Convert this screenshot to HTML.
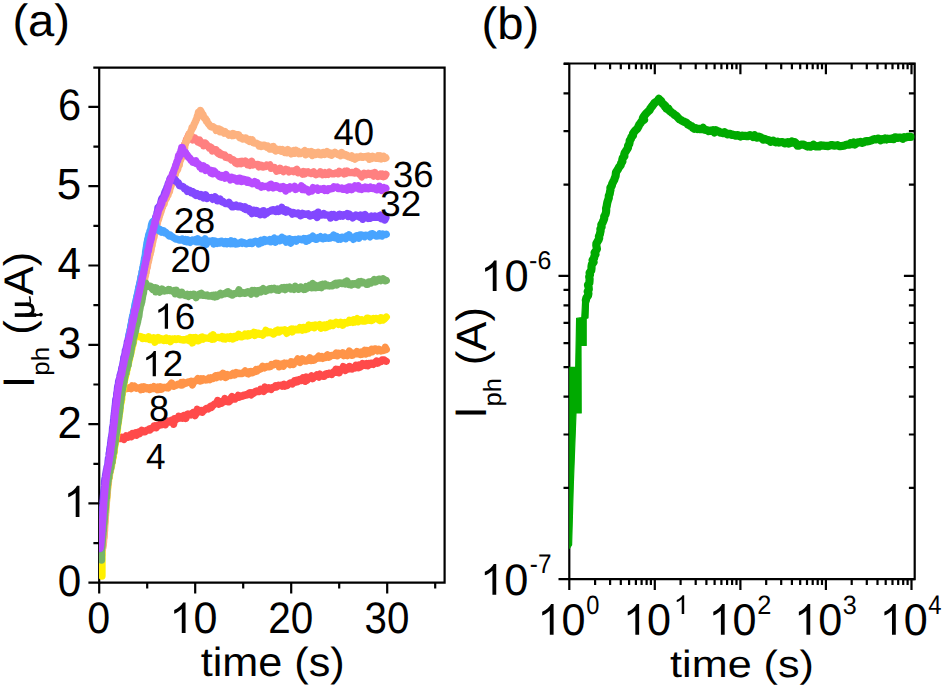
<!DOCTYPE html>
<html><head><meta charset="utf-8"><style>
html,body{margin:0;padding:0;background:#fff;width:943px;height:688px;overflow:hidden}
svg{display:block}
text{font-family:"Liberation Sans",sans-serif}
</style></head><body>
<svg width="943" height="688" viewBox="0 0 943 688"><rect width="943" height="688" fill="#fff"/><defs><clipPath id="ca"><rect x="99.0" y="66.5" width="345.40000000000003" height="516.4000000000001"/></clipPath><clipPath id="cb"><rect x="569.3" y="62.4" width="345.4000000000001" height="516.8000000000001"/></clipPath></defs><path stroke="#000" stroke-width="2.2" fill="none" d="M93.3 67.6 H444.6 V582.7 H99.2"/><path stroke="#000" stroke-width="2.2" fill="none" d="M88.4 582.7H99.2M88.4 503.4H99.2M88.4 424.1H99.2M88.4 344.8H99.2M88.4 265.5H99.2M88.4 186.2H99.2M88.4 106.9H99.2M93.4 543.1H99.2M93.4 463.8H99.2M93.4 384.5H99.2M93.4 305.2H99.2M93.4 225.9H99.2M93.4 146.6H99.2M99.2 582.7V593.5M195.2 582.7V593.5M291.2 582.7V593.5M387.2 582.7V593.5M147.2 582.7V588.5M243.2 582.7V588.5M339.2 582.7V588.5M435.2 582.7V588.5"/><path stroke="#000" stroke-width="2.2" fill="none" d="M99.2 67.6V583.8"/><g clip-path="url(#ca)"><path d="M101.5 556.0 101.5 555.9 101.5 554.7 101.5 552.2 101.5 551.2 101.5 549.8 101.5 549.6 101.5 548.0 101.6 547.9 101.7 545.2 101.9 547.0 102.1 544.0 102.2 543.1 102.3 541.1 102.4 539.7 102.5 539.3 102.6 538.4 102.7 536.5 102.8 535.4 102.9 535.0 103.0 532.8 103.1 531.2 103.2 531.7 103.3 529.9 103.4 527.7 103.5 527.5 103.6 526.7 103.7 525.1 103.9 523.7 104.0 523.8 104.1 523.3 104.2 521.2 104.3 519.5 104.4 519.2 104.5 518.2 104.6 516.1 104.7 515.4 104.8 514.5 104.9 512.1 105.0 510.3 105.1 509.9 105.3 508.5 105.4 507.9 105.5 504.7 105.6 503.9 105.7 502.4 105.8 500.5 105.9 500.8 106.0 499.9 106.1 497.7 106.3 498.3 106.4 496.6 106.5 495.2 106.6 493.9 106.7 493.1 106.8 490.0 107.0 490.2 107.1 488.9 107.2 485.6 107.4 486.0 107.5 484.2 107.7 483.9 107.8 481.8 108.0 481.0 108.1 480.1 108.3 478.1 108.5 478.1 108.7 476.5 108.8 475.9 109.0 474.0 109.3 474.1 109.5 472.5 109.8 470.7 110.0 470.3 110.3 469.8 110.5 469.1 110.8 465.3 111.0 466.1 111.2 464.7 111.5 462.9 111.7 460.9 112.0 461.4 112.2 458.3 112.3 458.7 112.5 458.2 112.7 454.8 112.9 454.7 113.0 452.8 113.2 452.9 113.4 452.8 113.6 452.0 113.7 447.8 113.9 447.6 114.1 447.5 114.3 446.9 114.4 444.8 114.6 442.6 114.8 442.2 115.0 440.9 115.1 439.6 115.3 438.1 115.4 438.3 120.8 438.7 121.9 437.4 122.9 438.2 124.0 439.3 125.0 437.7 126.1 435.9 127.1 436.8 128.2 437.2 129.2 436.0 130.3 434.8 131.3 436.7 132.4 433.5 133.4 435.1 134.5 434.3 135.5 432.8 136.6 435.1 137.6 433.9 138.7 432.0 139.7 433.6 140.8 432.2 141.8 430.3 142.8 431.2 143.9 431.8 144.9 431.8 145.9 430.8 146.9 430.2 148.0 430.2 149.0 429.0 150.0 430.0 151.0 428.4 152.1 428.1 153.1 427.9 154.1 425.8 155.1 425.7 156.2 427.7 157.2 426.1 158.2 425.1 159.2 425.4 160.2 424.3 161.3 424.8 162.3 423.5 163.3 424.2 164.3 422.0 165.4 424.8 166.4 422.6 167.4 421.1 168.4 422.2 169.5 421.7 170.5 422.0 171.5 420.2 172.5 421.3 173.6 424.3 174.6 418.7 175.6 419.9 176.6 418.7 177.7 418.8 178.7 416.2 179.7 416.5 180.7 417.8 181.8 416.9 182.8 418.2 183.8 415.4 184.8 416.0 185.9 418.5 186.9 414.4 187.9 413.9 189.0 414.6 190.0 414.2 191.0 414.9 192.0 413.8 193.1 412.6 194.1 413.3 195.1 415.6 196.1 413.8 197.2 409.3 198.2 411.7 199.2 410.5 200.2 411.7 201.3 410.5 202.3 412.3 203.3 410.8 204.3 410.4 205.4 409.2 206.4 408.5 207.4 408.4 208.4 408.9 209.5 407.6 210.5 406.3 211.5 407.4 212.5 405.8 213.6 405.0 214.6 403.8 215.6 403.7 216.6 403.2 217.7 400.5 218.7 404.2 219.7 403.3 220.7 402.2 221.7 403.1 222.8 402.2 223.8 401.8 224.8 398.6 225.8 400.6 226.9 401.1 227.9 401.9 228.9 401.8 229.9 401.0 231.0 398.0 232.0 396.5 233.0 399.1 234.1 398.3 235.1 399.0 236.2 397.5 237.2 397.6 238.3 395.4 239.4 397.2 240.4 395.9 241.5 396.4 242.6 396.2 243.6 395.2 244.7 395.3 245.7 394.7 246.8 395.1 247.9 394.5 248.9 393.2 250.0 392.8 251.1 394.9 252.1 392.7 253.2 393.6 254.2 392.7 255.3 391.5 256.4 391.0 257.4 391.7 258.5 391.5 259.6 391.5 260.6 389.3 261.7 389.7 262.7 389.9 263.8 391.4 264.9 387.0 265.9 389.5 267.0 388.2 268.0 388.9 269.1 387.7 270.2 388.3 271.2 389.3 272.3 387.7 273.3 387.5 274.4 387.3 275.4 385.9 276.5 387.0 277.6 386.0 278.6 385.2 279.7 385.7 280.7 385.3 281.8 386.1 282.9 385.0 283.9 384.3 285.0 386.2 286.0 385.5 287.1 385.5 288.1 384.6 289.2 383.6 290.3 383.0 291.3 382.9 292.4 384.0 293.4 382.8 294.5 380.8 295.6 382.0 296.6 380.3 297.7 381.6 298.7 379.9 299.8 379.4 300.9 380.5 301.9 379.9 303.0 377.9 304.1 380.1 305.1 381.2 306.2 377.1 307.2 380.2 308.3 377.3 309.4 377.3 310.4 377.4 311.5 375.9 312.6 378.6 313.6 377.6 314.7 376.1 315.7 376.4 316.8 374.9 317.9 376.0 318.9 377.1 320.0 374.1 321.1 375.3 322.1 375.6 323.2 376.3 324.2 376.4 325.3 374.2 326.4 373.6 327.4 374.5 328.5 373.4 329.5 373.1 330.6 374.2 331.7 374.5 332.7 372.6 333.8 371.8 334.8 372.3 335.9 369.3 336.9 370.9 338.0 369.5 339.1 372.8 340.1 370.8 341.2 369.9 342.2 369.3 343.3 366.6 344.4 369.8 345.4 370.5 346.5 367.8 347.5 369.1 348.6 369.0 349.6 366.4 350.7 368.8 351.8 369.1 352.8 367.7 353.9 367.2 354.9 367.8 356.0 365.2 357.1 366.7 358.2 367.6 359.2 365.0 360.3 367.1 361.4 365.4 362.5 363.5 363.6 365.4 364.7 364.3 365.7 365.4 366.8 363.6 367.9 365.7 369.0 363.5 370.1 364.4 371.1 363.2 372.2 363.2 373.3 364.4 374.4 363.1 375.5 362.2 376.6 361.0 377.6 363.2 378.7 362.6 379.8 361.2 380.9 361.6 382.0 360.0 383.1 359.9 384.1 359.9 385.2 361.0 386.3 361.3" stroke="#ff4a4a" stroke-width="7.3" fill="none" stroke-linecap="round" stroke-linejoin="round"/><path d="M101.5 555.6 101.5 553.8 101.5 552.9 101.5 552.4 101.5 551.3 101.5 549.7 101.5 547.5 101.5 547.6 101.6 546.2 101.7 546.6 101.9 544.0 102.1 540.9 102.2 541.4 102.3 542.2 102.4 539.8 102.5 538.3 102.6 538.1 102.7 536.9 102.8 535.8 102.9 534.1 103.0 533.5 103.1 532.5 103.2 530.8 103.3 529.4 103.4 529.2 103.5 528.6 103.6 527.0 103.7 525.7 103.9 524.3 104.0 524.7 104.1 521.6 104.2 520.9 104.3 520.4 104.4 517.6 104.5 516.5 104.6 515.9 104.7 515.2 104.8 512.8 104.9 511.7 105.0 510.3 105.1 508.1 105.3 508.8 105.4 506.5 105.5 504.1 105.6 504.3 105.7 501.9 105.8 501.3 105.9 501.0 106.0 499.1 106.1 499.5 106.3 496.4 106.4 496.7 106.5 495.7 106.6 495.3 106.7 493.7 106.8 491.8 107.0 490.4 107.1 488.9 107.2 488.6 107.4 485.8 107.5 485.5 107.7 483.8 107.8 482.9 108.0 481.3 108.1 482.1 108.3 478.7 108.5 478.3 108.7 477.2 108.8 476.3 109.0 475.0 109.3 473.7 109.5 472.9 109.8 469.7 110.0 469.7 110.3 467.6 110.5 467.6 110.8 465.2 111.0 464.2 111.2 463.8 111.5 463.6 111.7 461.6 112.0 460.1 112.2 459.9 112.3 457.0 112.5 455.1 112.7 455.4 112.9 454.6 113.0 454.8 113.2 454.5 113.4 450.8 113.6 452.8 113.7 451.1 113.9 449.5 114.1 448.1 114.3 448.6 114.4 445.6 114.6 444.1 114.8 443.4 115.0 441.0 115.2 441.2 115.4 439.4 115.6 438.5 115.7 437.4 115.9 435.1 116.1 435.8 116.2 432.8 116.4 433.2 116.6 430.0 116.7 430.4 116.9 428.3 117.0 427.9 117.2 426.2 117.4 423.8 117.5 423.3 117.7 423.0 117.9 422.1 118.1 419.2 118.2 417.3 118.4 417.0 118.6 416.4 118.7 414.8 118.9 413.5 119.0 413.7 119.2 412.6 119.4 411.2 119.5 408.6 119.7 408.3 119.8 406.9 120.0 404.7 120.1 405.4 120.3 403.6 120.5 402.0 120.6 402.4 120.8 400.7 121.0 399.6 121.2 398.6 121.3 397.0 121.5 394.3 121.7 393.8 121.9 393.8 122.1 391.3 122.2 390.9 122.4 390.0 122.6 389.0 126.9 388.5 128.0 387.9 129.1 388.4 130.1 387.6 131.2 388.6 132.3 385.9 133.4 387.6 134.5 386.1 135.6 387.3 136.6 388.3 137.7 387.8 138.8 387.8 139.9 388.0 141.0 389.7 142.0 387.0 143.1 389.2 144.2 386.8 145.3 388.0 146.4 388.8 147.4 387.8 148.5 388.9 149.6 389.5 150.7 387.5 151.8 388.7 152.9 388.4 153.9 386.7 155.0 388.4 156.1 387.6 157.2 389.6 158.3 387.0 159.4 389.5 160.5 386.9 161.6 389.3 162.7 387.6 163.8 387.3 164.9 387.5 166.0 387.4 167.1 387.8 168.2 388.0 169.3 385.6 170.4 384.6 171.5 383.0 172.6 385.2 173.7 386.3 174.8 385.7 175.9 385.3 177.0 384.6 178.1 384.2 179.2 384.4 180.3 384.9 181.4 382.5 182.5 384.9 183.6 382.4 184.7 383.6 185.8 382.9 186.9 383.0 188.0 382.1 189.1 381.8 190.2 382.6 191.3 381.4 192.4 384.9 193.5 381.6 194.6 381.1 195.7 381.0 196.8 380.3 197.9 378.6 199.0 380.6 200.1 381.0 201.2 378.9 202.2 380.3 203.3 378.8 204.4 379.8 205.5 380.0 206.6 379.9 207.7 379.6 208.8 378.2 209.9 379.6 211.0 377.9 212.1 378.5 213.2 378.6 214.3 377.2 215.4 375.9 216.5 377.6 217.6 375.4 218.7 375.5 219.8 375.0 220.9 376.8 222.0 375.6 223.1 373.2 224.2 376.2 225.3 377.5 226.4 377.1 227.5 374.5 228.6 375.0 229.7 375.4 230.8 375.6 231.9 374.6 233.0 373.3 234.1 375.1 235.2 374.7 236.3 372.5 237.4 373.3 238.5 373.7 239.6 373.2 240.7 373.5 241.8 373.6 242.9 373.2 244.0 372.3 245.1 370.9 246.2 372.8 247.3 373.5 248.4 373.9 249.5 371.7 250.6 371.5 251.7 372.9 252.8 372.7 253.9 371.4 255.0 371.6 256.1 369.7 257.2 370.9 258.3 369.1 259.4 369.4 260.5 369.1 261.6 368.3 262.7 366.2 263.8 367.1 264.8 367.9 265.9 367.1 267.0 366.4 268.1 366.9 269.2 366.8 270.3 366.7 271.4 364.6 272.5 365.3 273.6 364.7 274.7 363.9 275.8 363.2 276.9 364.5 278.0 363.6 279.1 366.7 280.2 364.2 281.3 364.0 282.4 363.8 283.5 366.1 284.6 363.1 285.7 363.8 286.8 363.1 287.9 363.7 289.0 363.6 290.1 364.6 291.2 361.7 292.3 363.0 293.4 364.4 294.5 362.0 295.6 362.1 296.7 361.0 297.8 358.9 298.9 361.3 300.0 362.4 301.1 360.4 302.2 358.8 303.3 360.8 304.4 360.4 305.5 361.2 306.6 360.9 307.7 359.5 308.8 360.1 309.9 357.7 311.0 360.6 312.1 359.5 313.2 360.3 314.3 360.2 315.4 358.6 316.5 358.5 317.6 357.7 318.7 356.2 319.8 358.1 320.9 358.2 322.0 356.6 323.1 358.3 324.2 357.4 325.2 357.6 326.3 356.1 327.4 354.8 328.5 357.3 329.6 356.9 330.7 355.9 331.8 355.4 332.9 355.4 334.0 355.3 335.1 354.7 336.2 353.0 337.3 355.8 338.4 353.2 339.5 354.4 340.6 354.3 341.7 354.8 342.8 352.8 343.9 355.7 345.0 355.1 346.1 355.1 347.2 355.6 348.3 353.4 349.4 351.0 350.5 354.5 351.6 355.4 352.7 355.2 353.8 353.3 354.9 353.6 356.0 353.9 357.1 351.5 358.2 352.5 359.3 352.4 360.4 354.5 361.5 352.0 362.6 354.1 363.7 352.2 364.8 350.2 365.9 354.1 367.0 350.6 368.1 352.0 369.2 352.9 370.3 350.4 371.4 349.4 372.5 351.7 373.5 350.5 374.6 348.9 375.7 349.0 376.7 349.5 377.8 350.8 378.9 349.3 379.9 350.1 381.0 351.1 382.0 350.6 383.1 350.6 384.2 350.3 385.2 347.3 386.3 349.5" stroke="#ff9448" stroke-width="7.3" fill="none" stroke-linecap="round" stroke-linejoin="round"/><path d="M102.0 576.0 102.0 573.5 102.0 572.9 102.0 573.8 102.0 570.8 102.0 569.9 102.0 567.8 102.0 567.3 102.0 566.1 102.0 565.0 102.0 563.9 102.0 562.2 102.0 561.0 102.0 560.2 102.0 559.2 102.0 557.5 102.0 557.8 102.0 555.3 102.0 554.0 102.0 552.0 102.0 552.1 102.0 549.2 102.0 547.5 102.0 546.7 102.1 547.3 102.2 545.3 102.4 546.3 102.6 543.6 102.7 541.1 102.8 540.7 102.9 541.3 103.0 538.2 103.1 536.8 103.2 537.2 103.3 536.8 103.4 535.6 103.5 533.5 103.6 532.9 103.7 532.0 103.8 531.6 103.9 531.2 104.0 528.2 104.1 528.2 104.2 525.7 104.4 525.4 104.5 523.0 104.6 521.9 104.7 521.7 104.8 519.4 104.9 519.6 105.0 517.3 105.1 516.6 105.2 515.2 105.3 513.8 105.4 513.0 105.5 512.5 105.6 512.8 105.8 508.2 105.9 508.1 106.0 506.5 106.1 504.6 106.2 504.3 106.3 502.1 106.4 501.5 106.5 501.3 106.6 497.5 106.8 498.1 106.9 497.0 107.0 494.7 107.1 494.6 107.2 493.2 107.3 491.3 107.5 491.2 107.6 487.9 107.7 488.1 107.9 486.1 108.0 484.1 108.2 483.6 108.3 482.3 108.5 482.1 108.6 479.1 108.8 479.0 109.0 477.6 109.2 478.1 109.3 474.8 109.5 475.4 109.8 472.0 110.0 472.4 110.3 470.8 110.5 470.2 110.8 468.2 111.0 466.1 111.3 465.3 111.5 466.4 111.7 464.4 112.0 462.3 112.2 462.4 112.5 459.8 112.7 458.7 112.8 457.3 113.0 458.1 113.2 457.6 113.4 454.1 113.5 454.1 113.7 453.5 113.9 453.3 114.1 448.6 114.2 449.5 114.4 448.8 114.6 446.0 114.8 446.4 114.9 445.1 115.1 444.4 115.3 442.2 115.5 441.8 115.7 439.8 115.9 439.5 116.1 438.0 116.2 436.4 116.4 434.5 116.6 435.8 116.7 434.2 116.9 433.0 117.1 430.5 117.2 429.6 117.4 430.0 117.5 428.1 117.7 425.7 117.9 425.2 118.0 423.9 118.2 422.3 118.4 420.4 118.6 420.8 118.7 419.0 118.9 417.1 119.1 414.8 119.2 414.4 119.4 413.8 119.5 413.3 119.7 411.2 119.9 411.3 120.0 409.4 120.2 407.6 120.3 404.8 120.5 405.0 120.6 403.6 120.8 403.5 121.0 402.8 121.1 402.5 121.3 400.1 121.5 398.0 121.7 399.5 121.8 396.6 122.0 394.9 122.2 393.6 122.4 391.5 122.6 391.9 122.8 390.4 123.0 390.1 123.2 388.5 123.4 387.2 123.6 386.3 123.8 383.9 124.1 382.7 124.3 381.7 124.5 379.6 124.8 379.3 125.0 378.1 125.2 377.9 125.5 376.3 125.8 373.4 126.2 373.5 126.4 373.6 126.7 370.0 126.9 369.8 127.2 369.2 127.4 367.0 127.7 366.4 128.0 365.5 128.3 363.0 128.6 362.9 128.8 361.9 129.1 359.5 129.3 359.5 129.5 359.3 129.8 357.1 130.0 356.5 130.3 355.6 130.5 353.8 130.8 353.7 131.0 352.0 131.3 349.8 131.5 349.9 131.8 349.1 132.0 347.9 132.3 345.7 132.5 345.4 132.8 345.1 133.0 343.1 133.3 342.8 133.5 341.9 133.7 339.7 134.0 339.2 134.2 337.3 134.4 337.3 134.7 335.3 136.1 335.9 137.2 336.3 138.2 336.6 139.3 336.4 140.3 336.6 141.4 336.8 142.4 338.5 143.5 337.4 144.5 337.8 145.6 338.6 146.6 338.1 147.7 338.6 148.7 336.7 149.8 339.6 150.8 339.0 151.9 339.7 152.9 340.0 154.0 337.7 155.0 342.2 156.1 339.9 157.2 339.8 158.3 337.6 159.4 340.1 160.5 339.7 161.6 338.8 162.7 339.4 163.8 340.5 164.9 338.7 166.0 338.1 167.1 340.5 168.2 339.4 169.3 338.9 170.4 341.6 171.5 339.4 172.6 339.0 173.7 339.5 174.8 338.8 175.9 339.5 177.0 339.4 178.1 338.6 179.2 339.0 180.3 339.6 181.4 339.7 182.5 339.9 183.6 340.1 184.7 339.6 185.8 339.9 186.9 339.0 188.0 339.2 189.1 340.6 190.2 337.4 191.3 339.9 192.4 342.9 193.5 337.6 194.6 341.0 195.7 337.5 196.8 339.7 197.9 340.9 199.0 340.6 200.1 337.9 201.2 337.3 202.2 337.0 203.3 339.1 204.4 337.7 205.5 338.0 206.6 338.2 207.7 338.2 208.8 338.3 209.9 337.9 211.0 336.0 212.1 339.2 213.2 334.8 214.3 339.0 215.4 337.1 216.5 337.6 217.6 337.3 218.7 337.4 219.8 337.8 220.9 337.5 222.0 336.6 223.1 338.7 224.2 337.1 225.3 339.0 226.4 337.4 227.5 336.9 228.6 338.1 229.7 338.5 230.8 336.6 231.9 337.3 233.0 339.0 234.1 336.4 235.2 336.5 236.3 337.4 237.4 335.8 238.5 334.3 239.6 334.9 240.7 336.8 241.8 336.8 242.9 336.4 244.0 336.0 245.1 334.0 246.2 335.8 247.3 336.0 248.4 333.9 249.5 335.3 250.6 333.8 251.7 334.3 252.8 334.4 253.9 332.4 255.0 335.4 256.1 332.9 257.2 333.7 258.3 333.2 259.4 334.3 260.5 334.2 261.6 333.7 262.7 335.1 263.8 333.8 264.8 333.0 265.9 330.3 267.0 332.9 268.1 332.7 269.2 331.9 270.3 331.8 271.4 333.1 272.5 333.4 273.6 334.1 274.7 333.1 275.8 331.0 276.9 331.9 278.0 330.0 279.1 332.0 280.2 331.4 281.3 330.2 282.4 330.5 283.5 330.2 284.6 329.7 285.7 331.6 286.8 333.3 287.9 330.7 289.0 330.9 290.1 329.9 291.2 329.2 292.3 331.9 293.4 329.1 294.5 329.8 295.6 329.2 296.7 329.9 297.8 329.1 298.9 329.7 300.0 327.6 301.1 328.7 302.2 330.1 303.3 327.4 304.4 327.6 305.5 329.5 306.6 328.3 307.7 328.8 308.8 325.1 309.9 327.4 311.0 325.7 312.1 325.4 313.2 327.2 314.3 327.8 315.4 324.9 316.5 325.2 317.6 325.7 318.7 326.1 319.8 324.6 320.9 328.3 322.0 326.4 323.1 325.2 324.2 324.9 325.2 327.7 326.3 327.5 327.4 324.4 328.5 325.1 329.6 325.9 330.7 323.1 331.8 323.6 332.9 325.5 334.0 323.2 335.1 323.4 336.2 322.3 337.3 322.9 338.4 324.3 339.5 322.7 340.6 322.1 341.7 322.7 342.8 325.2 343.9 323.3 345.0 322.4 346.1 323.0 347.2 323.1 348.3 322.5 349.4 320.3 350.5 322.2 351.6 321.4 352.7 322.3 353.8 319.7 354.9 322.0 356.0 320.1 357.1 318.7 358.2 321.7 359.3 319.6 360.4 320.4 361.5 319.8 362.6 321.1 363.7 321.1 364.8 321.1 365.9 320.7 367.0 318.2 368.1 318.2 369.2 320.2 370.3 319.0 371.4 320.5 372.5 320.1 373.5 318.4 374.6 318.7 375.7 318.4 376.7 318.6 377.8 319.1 378.9 319.9 379.9 320.4 381.0 317.7 382.0 318.0 383.1 320.0 384.2 319.1 385.2 318.1 386.3 317.0" stroke="#fff000" stroke-width="7.3" fill="none" stroke-linecap="round" stroke-linejoin="round"/><path d="M102.3 548.3 102.4 548.5 102.5 545.2 102.7 545.2 102.9 543.7 103.0 543.6 103.1 542.7 103.2 539.5 103.3 538.8 103.4 538.0 103.5 537.2 103.6 534.9 103.7 534.7 103.7 532.4 103.8 529.8 103.9 529.7 104.0 530.0 104.1 529.3 104.1 525.6 104.2 524.8 104.3 525.0 104.4 521.1 104.5 523.1 104.6 522.2 104.6 517.8 104.7 519.6 104.8 517.6 104.9 517.7 105.0 515.5 105.1 513.9 105.1 513.0 105.2 512.4 105.3 510.5 105.4 509.1 105.5 506.7 105.6 507.0 105.7 505.4 105.7 505.6 105.8 502.9 105.9 501.6 106.0 500.0 106.1 500.0 106.2 498.1 106.3 496.6 106.3 497.3 106.4 496.4 106.5 493.4 106.6 491.8 106.7 492.3 106.8 489.5 106.9 491.2 107.1 487.5 107.2 487.1 107.3 484.0 107.4 483.9 107.5 483.7 107.7 482.0 107.8 480.1 107.9 481.3 108.1 478.8 108.3 476.9 108.4 475.6 108.6 474.7 108.8 474.8 109.0 471.9 109.3 471.3 109.5 469.6 109.7 470.1 109.9 467.8 110.1 467.5 110.4 466.1 110.6 464.0 110.8 463.7 111.0 462.6 111.2 459.5 111.4 459.9 111.6 461.1 111.7 456.8 111.9 456.5 112.0 453.8 112.2 454.1 112.3 452.1 112.5 452.1 112.6 450.3 112.8 448.3 112.9 449.0 113.1 446.8 113.2 445.0 113.4 444.8 113.5 442.9 113.7 442.9 113.9 441.3 114.0 439.9 114.2 439.6 114.4 436.9 114.5 437.6 114.7 434.2 114.8 436.1 115.0 433.9 115.1 432.5 115.2 431.1 115.4 431.1 115.5 429.4 115.6 428.3 115.8 428.2 115.9 425.9 116.1 424.8 116.2 424.0 116.4 423.3 116.5 421.0 116.7 419.9 116.8 418.5 117.0 417.9 117.1 417.3 117.2 414.2 117.4 413.6 117.5 412.4 117.6 411.7 117.8 411.3 117.9 408.9 118.0 407.9 118.2 407.4 118.3 404.3 118.4 403.5 118.6 402.6 118.7 401.8 118.9 400.7 119.0 398.9 119.2 399.5 119.3 396.2 119.5 395.4 119.6 395.2 119.8 393.6 120.0 391.7 120.2 390.7 120.3 389.8 120.5 387.8 120.7 387.0 120.9 384.5 121.1 384.0 121.3 381.4 121.5 380.7 121.8 379.1 122.0 379.8 122.2 377.3 122.4 376.9 122.7 374.9 123.0 374.0 123.4 372.6 123.6 371.1 123.9 371.5 124.1 368.6 124.4 369.3 124.6 369.8 124.9 365.9 125.2 365.3 125.5 362.7 125.8 362.6 126.0 360.2 126.3 361.0 126.5 359.1 126.7 356.9 127.0 356.3 127.2 354.9 127.5 354.9 127.7 354.7 128.0 352.6 128.2 350.8 128.5 350.0 128.7 349.7 129.0 346.6 129.2 348.0 129.5 346.7 129.7 343.3 130.0 345.2 130.2 341.9 130.5 341.9 130.7 342.0 130.9 338.6 131.2 337.4 131.4 336.8 131.6 335.8 131.9 335.5 132.1 334.1 132.3 333.0 132.6 331.9 132.8 331.1 133.0 329.4 133.2 329.4 133.5 328.0 133.7 326.1 133.9 327.4 134.1 323.7 134.4 324.3 134.6 322.0 134.8 321.8 135.1 320.8 135.3 320.0 135.5 319.3 135.7 316.4 136.0 318.3 136.2 315.2 136.4 313.1 136.7 311.6 136.9 313.5 137.1 311.9 137.4 309.4 137.6 308.9 137.8 308.3 138.1 306.2 138.3 304.7 138.5 303.9 138.8 303.5 139.0 301.7 139.2 299.6 139.5 300.1 139.7 296.9 139.9 296.6 140.2 297.2 140.4 295.3 140.6 294.3 140.9 293.2 141.1 292.9 141.3 291.0 141.6 288.5 141.8 289.3 142.1 285.6 142.3 285.4 142.6 287.4 142.8 285.9 143.0 283.7 143.3 282.9 143.5 282.0 143.8 281.7 144.0 279.2 144.3 278.0 144.5 277.1 144.8 276.6 145.0 275.6 145.3 273.9 145.5 273.7 145.8 271.0 146.0 270.6 146.3 268.9 146.5 267.5 146.8 268.1 147.0 265.7 147.2 263.9 147.5 263.6 147.7 261.6 148.0 261.7 148.2 260.8 148.4 259.7 148.6 256.9 148.9 256.6 149.1 257.1 149.3 254.4 149.5 254.6 149.7 253.8 149.9 250.4 150.1 251.5 150.4 250.2 150.6 249.3 150.8 249.0 151.0 247.1 151.2 245.8 151.5 245.2 151.7 243.5 151.9 243.1 152.2 240.1 152.4 242.0 152.7 239.1 152.9 238.9 153.2 237.6 153.5 236.2 153.8 235.0 154.1 233.8 154.4 231.3 154.7 230.9 155.0 231.1 155.3 228.0 155.6 226.8 155.9 228.2 156.3 226.2 156.6 225.3 156.9 222.8 157.3 221.8 157.6 221.1 157.9 219.7 158.3 218.0 158.6 215.8 158.9 215.3 159.2 213.6 159.6 215.0 160.0 212.1 160.4 211.0 160.8 210.1 161.2 208.8 161.6 208.1 162.0 206.1 162.3 204.4 162.7 206.2 163.1 203.3 163.6 202.2 164.2 200.7 164.7 199.7 165.3 199.0 165.8 198.4 166.3 195.7 166.9 195.6 167.4 193.5 167.9 193.8 168.4 190.5 169.0 190.2 169.5 189.3 170.0 186.3 170.5 186.2 171.0 184.9 171.5 182.8 172.0 181.8 172.5 181.4 173.0 179.3 173.5 177.4 174.0 176.1 174.5 175.2 174.9 174.8 175.2 173.4 175.6 172.3 175.9 171.9 176.3 168.3 176.6 167.4 177.2 165.2 177.7 166.3 178.2 162.4 178.7 162.8 179.1 162.2 179.6 159.2 180.1 158.5 180.5 157.6 181.0 157.2 181.4 154.2 181.8 154.5 182.3 153.6 182.7 152.1 183.1 151.1 183.4 151.2 183.7 149.4 184.2 147.9 184.4 146.5 184.5 146.1 184.7 144.2 185.2 143.8 185.6 142.2 186.1 141.9 186.5 139.3 187.0 138.8 187.4 137.9 187.9 136.8 188.3 136.3 188.8 134.6 189.8 135.9 190.7 137.6 191.7 137.6 192.6 137.0 193.6 138.5 192.6 140.0 193.6 139.8 194.6 137.8 195.6 138.9 196.7 139.5 197.7 141.9 198.7 140.4 199.5 140.0 200.4 143.3 201.2 143.0 202.0 143.6 202.8 142.9 203.7 145.8 204.5 144.6 205.5 143.2 206.4 144.5 207.4 145.3 208.4 146.5 209.3 148.0 210.3 146.9 211.3 147.6 212.3 151.1 213.2 149.5 214.2 149.4 215.2 150.6 216.2 149.9 217.1 152.3 218.1 153.3 219.1 152.3 220.0 154.5 220.9 153.8 221.8 155.0 222.8 154.5 223.7 155.1 224.6 154.9 225.6 157.3 226.5 157.3 227.4 157.8 228.4 157.3 229.4 157.6 230.4 158.6 231.4 160.1 232.3 160.3 233.3 159.7 234.3 161.0 235.3 162.9 236.3 161.6 237.3 163.7 238.4 162.2 239.4 163.4 240.4 161.6 241.4 163.6 242.4 161.3 243.5 163.0 244.5 162.6 245.5 161.0 246.6 161.9 247.6 164.7 248.6 164.3 249.7 165.3 250.7 164.3 251.7 161.3 252.8 164.9 253.8 164.2 254.8 164.4 255.9 164.7 256.9 164.5 257.9 164.4 258.9 166.9 259.9 166.2 261.0 165.2 262.0 165.5 263.1 167.1 264.3 166.6 265.4 166.5 266.6 165.1 267.7 166.1 268.9 165.5 270.0 164.9 271.1 168.3 272.2 167.4 273.4 167.7 274.5 167.5 275.6 169.5 276.7 171.2 277.9 169.8 279.0 170.4 280.1 168.3 281.2 170.0 282.4 170.1 283.5 171.6 284.6 170.1 285.7 169.2 286.9 170.2 288.0 169.9 289.1 171.9 290.2 171.2 291.3 170.9 292.4 170.9 293.6 171.7 294.7 170.4 295.8 170.1 296.9 169.3 298.0 172.7 299.1 172.2 300.3 172.5 301.4 172.1 302.5 174.1 303.6 171.5 304.7 173.9 305.8 171.9 307.0 172.4 308.1 171.7 309.2 173.1 310.3 172.8 311.5 173.6 312.6 172.6 313.7 171.8 314.8 173.9 316.0 174.7 317.1 174.2 318.2 173.4 319.3 173.8 320.4 171.7 321.5 173.1 322.7 174.7 323.8 174.0 324.9 172.7 326.0 174.4 327.1 173.4 328.2 174.3 329.4 172.1 330.5 172.9 331.6 173.8 332.7 173.7 333.8 173.9 334.9 173.2 336.1 172.9 337.2 173.6 338.3 173.9 339.4 171.3 340.5 172.5 341.6 172.6 342.8 173.0 343.9 173.8 345.0 171.4 346.1 173.3 347.2 171.0 348.3 172.1 349.4 172.4 350.6 172.7 351.7 172.4 352.8 172.6 353.9 172.9 355.0 173.0 356.1 171.4 357.2 172.0 358.3 173.1 359.4 174.2 360.6 174.8 361.7 176.9 362.8 174.1 363.9 173.2 365.0 174.3 366.1 175.0 367.2 174.5 368.3 173.3 369.4 174.4 370.5 174.6 371.6 173.3 372.7 173.5 373.8 176.1 374.9 172.6 376.0 175.1 377.1 174.7 378.2 176.4 379.3 175.6 380.4 174.0 381.5 176.1 382.6 174.2 383.7 176.7 384.8 176.2 385.9 174.3" stroke="#ff8080" stroke-width="7.3" fill="none" stroke-linecap="round" stroke-linejoin="round"/><path d="M102.8 547.9 102.9 547.3 103.0 546.5 103.2 545.7 103.4 543.3 103.5 542.5 103.6 541.8 103.7 539.1 103.8 538.6 103.9 538.2 104.0 538.6 104.1 536.9 104.2 536.5 104.2 535.2 104.3 532.7 104.4 531.8 104.5 529.8 104.6 530.4 104.6 528.7 104.7 527.2 104.8 525.9 104.9 524.4 105.0 522.9 105.1 521.6 105.1 521.0 105.2 518.1 105.3 516.6 105.4 516.2 105.5 515.9 105.6 514.0 105.6 512.4 105.7 512.1 105.8 510.3 105.9 507.6 106.0 507.1 106.1 505.1 106.2 505.4 106.2 504.1 106.3 503.7 106.4 503.9 106.5 500.7 106.6 500.1 106.7 498.7 106.8 495.6 106.8 496.1 106.9 495.0 107.0 494.6 107.1 492.5 107.2 490.9 107.3 491.0 107.4 489.2 107.6 487.2 107.7 486.0 107.8 485.1 107.9 484.8 108.0 484.1 108.2 480.8 108.3 481.6 108.4 479.6 108.6 478.7 108.8 478.1 108.9 475.4 109.1 475.7 109.3 472.8 109.5 472.2 109.8 470.6 110.0 471.5 110.2 470.2 110.4 468.3 110.6 466.9 110.9 464.8 111.1 465.4 111.3 463.7 111.5 461.9 111.7 459.7 111.9 458.3 112.1 457.4 112.2 457.4 112.4 454.5 112.5 454.3 112.7 454.4 112.8 452.8 113.0 452.4 113.1 450.3 113.3 449.3 113.4 449.0 113.6 447.4 113.7 446.1 113.9 444.3 114.0 442.4 114.2 443.6 114.4 440.9 114.5 439.4 114.7 439.4 114.9 436.7 115.0 435.2 115.2 434.7 115.3 433.9 115.5 433.0 115.6 432.0 115.7 431.2 115.9 429.2 116.0 428.4 116.1 426.9 116.3 425.3 116.4 424.9 116.6 423.6 116.7 423.4 116.9 421.1 117.0 418.8 117.2 418.6 117.3 416.7 117.5 417.0 117.6 413.3 117.7 413.1 117.9 412.0 118.0 411.6 118.1 410.4 118.3 408.2 118.4 407.0 118.5 407.6 118.7 407.6 118.8 406.5 118.9 404.0 119.1 403.6 119.2 401.4 119.4 399.7 119.5 400.6 119.7 398.9 119.8 396.8 120.0 395.5 120.1 395.2 120.3 393.4 120.5 391.6 120.7 390.7 120.8 389.2 121.0 387.6 121.2 386.1 121.4 386.2 121.6 383.8 121.8 382.1 122.0 383.1 122.3 381.4 122.5 379.5 122.7 378.0 122.9 377.1 123.2 374.8 123.5 374.5 123.9 373.3 124.1 371.9 124.4 371.4 124.6 369.4 124.9 369.0 125.1 366.5 125.4 366.5 125.7 364.8 126.0 362.9 126.3 362.3 126.5 361.6 126.8 360.1 127.0 360.3 127.2 358.0 127.5 358.2 127.7 357.0 128.0 355.0 128.2 355.6 128.5 352.3 128.7 352.8 129.0 351.4 129.2 350.9 129.5 348.0 129.7 347.2 130.0 346.4 130.2 345.9 130.5 344.8 130.7 343.6 131.0 342.2 131.2 340.6 131.4 339.0 131.7 338.5 131.9 338.0 132.1 337.2 132.4 334.8 132.6 334.8 132.8 331.8 133.1 332.3 133.3 329.8 133.5 329.7 133.7 327.7 134.0 326.6 134.2 325.9 134.4 326.5 134.6 323.8 134.9 323.8 135.1 322.5 135.3 321.6 135.6 320.6 135.8 319.9 136.0 317.5 136.2 317.4 136.5 316.7 136.7 315.0 136.9 314.7 137.2 312.6 137.4 313.0 137.6 310.9 137.9 310.2 138.1 310.0 138.3 309.1 138.6 306.8 138.8 305.6 139.0 305.7 139.3 301.6 139.5 303.7 139.7 302.5 140.0 299.4 140.2 299.9 140.4 298.0 140.7 296.9 140.9 293.5 141.1 293.8 141.4 292.9 141.6 291.5 141.8 290.4 142.1 289.4 142.3 286.3 142.6 287.4 142.8 285.9 143.1 285.4 143.3 284.1 143.5 283.4 143.8 282.6 144.0 282.7 144.3 279.6 144.5 280.5 144.8 277.9 145.0 276.3 145.3 274.7 145.5 275.3 145.8 272.3 146.0 273.0 146.3 271.3 146.5 269.4 146.8 268.1 147.0 267.8 147.3 266.4 147.5 265.8 147.7 264.1 148.0 262.6 148.2 262.3 148.5 259.9 148.7 260.4 148.9 258.9 149.1 256.9 149.4 256.0 149.6 255.6 149.8 253.5 150.0 255.0 150.2 253.7 150.4 251.1 150.6 250.9 150.9 251.3 151.1 249.3 151.3 247.2 151.5 245.4 151.7 244.8 152.0 246.0 152.2 244.2 152.4 241.9 152.7 242.4 152.9 240.4 153.2 239.0 153.4 238.0 153.7 236.8 154.0 237.3 154.3 234.0 154.6 233.2 154.9 233.3 155.2 232.2 155.5 229.0 155.8 230.2 156.1 228.2 156.4 224.9 156.8 226.3 157.1 222.5 157.4 223.1 157.8 220.5 158.1 218.9 158.4 219.8 158.8 218.4 159.1 217.0 159.4 216.2 159.7 215.0 160.1 213.8 160.5 212.0 160.9 212.1 161.3 210.4 161.7 209.1 162.1 207.8 162.5 207.0 162.8 205.1 163.2 205.0 163.6 203.5 164.1 204.0 164.7 200.9 165.2 200.0 165.8 199.1 166.3 198.4 166.8 196.8 167.4 195.1 167.9 195.4 168.4 192.3 168.9 191.1 169.5 191.6 170.0 187.4 170.5 187.5 171.0 185.7 171.5 182.9 172.0 182.2 172.5 182.0 173.0 178.8 173.5 178.5 174.0 178.0 174.5 175.8 175.0 174.8 175.4 173.1 175.7 172.3 176.1 171.4 176.4 170.7 176.8 170.5 177.1 169.2 177.7 169.3 178.2 166.8 178.7 165.3 179.2 165.5 179.6 162.4 180.1 160.6 180.6 160.1 181.0 157.9 181.5 157.9 181.9 157.3 182.3 155.5 182.8 153.4 183.2 152.6 183.6 152.0 183.9 151.6 184.2 149.4 184.7 148.1 184.7 148.1 184.7 146.2 184.7 145.2 185.2 144.2 185.6 142.1 186.1 141.5 186.5 141.4 187.0 139.4 187.4 138.2 187.9 137.6 188.3 136.6 188.8 137.2 189.3 133.5 189.9 133.2 190.4 133.6 190.9 131.0 191.5 130.1 192.0 127.6 192.5 128.4 193.1 127.2 193.6 126.0 194.1 124.1 194.7 123.4 195.2 121.9 195.7 121.4 196.2 119.5 196.8 119.0 197.3 116.1 197.8 115.7 198.4 112.5 198.9 113.5 199.4 113.1 200.0 111.1 200.5 110.8 200.5 110.5 201.0 111.4 201.5 112.4 202.0 113.6 202.5 114.1 203.0 114.7 203.5 116.2 204.0 117.7 204.6 118.3 205.1 119.0 205.7 118.8 206.3 121.2 206.8 120.7 207.4 122.2 208.3 123.8 209.2 124.5 210.2 126.2 211.1 126.7 212.0 127.0 213.1 126.7 214.1 127.6 215.1 127.9 216.2 130.5 217.1 129.5 218.1 128.8 219.1 129.1 220.0 131.7 221.0 129.9 222.0 131.6 223.0 131.8 224.0 133.1 225.0 131.5 226.0 133.2 227.0 133.3 228.0 134.2 228.9 135.1 229.9 134.2 230.9 134.1 231.9 135.6 233.1 133.5 234.2 135.4 235.4 134.5 236.5 134.6 237.7 134.6 238.7 134.8 239.6 137.7 240.6 138.0 241.6 137.6 242.5 138.9 243.5 138.2 244.7 138.0 245.8 137.8 247.0 140.1 248.1 140.5 249.3 141.4 250.3 139.6 251.2 140.6 252.2 139.9 253.2 142.9 254.1 142.9 255.1 143.2 256.1 143.1 257.1 143.6 258.0 143.9 259.0 146.0 260.0 144.8 261.1 146.6 262.2 146.3 263.4 145.2 264.5 145.1 265.6 146.0 266.7 147.1 267.8 146.1 268.9 148.4 270.0 149.2 271.2 148.9 272.3 146.8 273.4 146.4 274.5 150.0 275.6 150.9 276.7 149.1 277.9 150.2 279.0 149.5 280.1 149.3 281.2 151.1 282.4 149.6 283.5 151.2 284.6 152.3 285.7 150.5 286.9 152.7 288.0 149.6 289.1 152.0 290.2 151.2 291.3 153.9 292.4 151.4 293.6 150.6 294.7 153.3 295.8 150.2 296.9 152.4 298.0 151.3 299.1 153.7 300.3 152.3 301.4 153.4 302.5 152.6 303.6 151.6 304.7 150.6 305.8 154.7 307.0 153.2 308.1 151.8 309.2 152.7 310.3 154.1 311.5 151.5 312.6 155.4 313.7 152.8 314.8 152.7 316.0 154.5 317.1 153.5 318.2 152.3 319.3 154.4 320.4 153.9 321.5 154.7 322.7 152.6 323.8 152.4 324.9 154.4 326.0 153.3 327.1 151.5 328.2 153.2 329.4 154.5 330.5 153.1 331.6 155.2 332.7 153.3 333.8 153.8 334.9 152.3 336.1 153.2 337.2 153.9 338.3 154.7 339.4 154.5 340.5 155.6 341.6 152.4 342.8 155.0 343.9 155.0 345.0 154.4 346.1 155.7 347.2 155.2 348.3 156.7 349.4 156.1 350.6 157.2 351.7 155.9 352.8 158.3 353.9 157.5 355.0 159.1 356.1 157.2 357.2 156.8 358.3 157.5 359.4 156.9 360.6 156.3 361.7 157.3 362.8 157.3 363.9 156.6 365.0 156.9 366.1 156.4 367.2 157.5 368.3 156.0 369.4 159.2 370.5 157.5 371.6 158.4 372.7 156.2 373.8 157.8 374.9 157.3 376.0 158.4 377.1 158.3 378.2 155.7 379.3 158.6 380.4 155.9 381.5 158.9 382.6 157.4 383.7 156.3 384.8 158.4 385.9 157.9" stroke="#fdb27f" stroke-width="7.3" fill="none" stroke-linecap="round" stroke-linejoin="round"/><path d="M101.5 560.1 101.5 558.9 101.5 559.2 101.5 556.4 101.5 555.7 101.5 553.2 101.5 554.2 101.5 552.6 101.5 550.2 101.5 548.1 101.5 548.5 101.6 547.7 101.7 547.8 101.9 547.4 102.1 544.4 102.2 542.6 102.3 541.1 102.4 539.9 102.5 537.9 102.6 537.2 102.7 536.7 102.8 534.3 102.9 533.4 103.0 534.3 103.1 531.7 103.2 531.8 103.3 531.0 103.4 528.9 103.5 528.4 103.6 526.3 103.7 524.6 103.9 524.1 104.0 523.0 104.1 521.9 104.2 520.7 104.3 519.1 104.4 519.1 104.5 516.9 104.6 515.5 104.7 515.4 104.8 512.6 104.9 512.1 105.0 512.1 105.1 509.7 105.3 509.5 105.4 506.8 105.5 505.3 105.6 504.3 105.7 502.8 105.8 501.7 105.9 500.4 106.0 500.3 106.1 498.8 106.3 497.1 106.4 495.5 106.5 497.6 106.6 493.7 106.7 493.8 106.8 490.4 107.0 489.4 107.1 489.7 107.2 486.5 107.4 485.2 107.5 484.7 107.7 483.0 107.8 482.1 108.0 481.3 108.1 480.8 108.3 479.1 108.5 478.1 108.7 477.8 108.8 476.8 109.0 474.3 109.3 471.9 109.5 471.4 109.8 471.9 110.0 469.6 110.3 468.3 110.5 467.4 110.8 467.9 111.0 465.4 111.2 463.9 111.5 462.3 111.7 460.6 112.0 462.4 112.2 459.0 112.3 458.1 112.5 456.6 112.7 456.7 112.9 454.0 113.0 452.3 113.2 452.4 113.4 452.1 113.6 452.6 113.7 449.7 113.9 448.1 114.1 447.6 114.3 446.0 114.4 444.9 114.6 444.5 114.8 443.4 115.0 441.4 115.2 441.5 115.4 439.3 115.6 438.2 115.7 436.5 115.9 436.0 116.1 434.9 116.2 434.0 116.4 431.6 116.6 431.7 116.7 429.6 116.9 429.1 117.0 428.5 117.2 428.1 117.4 425.4 117.5 423.6 117.7 423.5 117.9 423.1 118.1 420.7 118.2 421.6 118.4 416.9 118.6 418.6 118.7 417.2 118.9 416.0 119.0 413.3 119.2 413.9 119.4 412.5 119.5 411.3 119.7 408.9 119.8 407.7 120.0 407.7 120.1 405.7 120.3 403.9 120.5 402.2 120.6 401.9 120.8 399.2 121.0 399.5 121.2 397.9 121.3 395.2 121.5 395.5 121.7 394.9 121.9 392.9 122.1 390.3 122.3 389.7 122.5 389.6 122.7 386.7 122.9 386.2 123.1 386.3 123.3 384.0 123.6 382.5 123.8 382.4 124.0 381.8 124.3 379.6 124.5 377.2 124.7 375.9 125.0 376.0 125.3 373.3 125.7 373.3 125.9 373.1 126.2 369.3 126.4 370.3 126.7 369.6 126.9 367.7 127.2 367.3 127.5 366.1 127.8 365.2 128.1 365.3 128.3 362.3 128.6 360.3 128.8 359.2 129.0 357.9 129.3 358.4 129.5 357.0 129.8 356.0 130.0 354.7 130.3 354.7 130.5 353.1 130.8 351.9 131.0 349.4 131.3 348.5 131.5 346.6 131.8 345.9 132.0 345.4 132.3 343.2 132.5 342.5 132.8 343.6 133.0 340.7 133.2 338.6 133.5 337.8 133.7 337.8 133.9 337.5 134.2 335.7 134.4 335.5 134.6 334.1 134.9 332.0 135.1 332.7 135.3 330.6 135.5 331.5 135.8 328.5 136.0 327.9 136.2 326.5 136.4 325.8 136.7 325.3 136.9 323.8 137.1 323.8 137.4 322.1 137.6 321.9 137.8 319.6 138.0 319.5 138.3 318.3 138.5 316.0 138.7 317.0 139.0 314.9 139.2 313.0 139.4 311.2 139.7 310.1 139.9 308.9 140.1 308.1 140.4 305.7 140.6 305.6 140.8 303.9 141.1 304.6 141.3 302.7 141.5 302.3 141.8 301.8 142.0 299.1 142.2 299.3 142.5 296.8 142.7 295.9 142.9 293.6 143.2 293.3 143.4 293.3 143.6 291.5 143.9 289.7 144.1 288.9 144.4 287.2 144.6 286.2 144.9 284.5 145.1 285.4 145.5 283.2 142.9 283.2 143.9 283.9 144.9 283.4 145.8 283.2 146.8 285.4 147.8 286.3 148.8 286.1 149.8 286.2 150.8 286.4 151.7 288.2 152.7 289.4 153.7 288.1 154.7 287.8 155.7 291.9 156.6 288.0 157.6 290.5 158.6 290.5 159.7 292.1 160.8 290.5 161.9 289.0 163.0 289.6 164.1 291.0 165.2 290.9 166.3 290.3 167.4 290.5 168.5 289.5 169.6 289.7 170.7 290.7 171.8 290.8 172.9 291.5 174.1 290.6 175.2 293.7 176.3 290.3 177.4 293.4 178.5 293.3 179.6 294.8 180.7 294.9 181.8 292.2 182.9 294.3 184.0 295.0 185.1 295.5 186.2 295.2 187.3 294.3 188.4 296.4 189.5 294.9 190.6 294.5 191.7 295.2 192.8 294.4 193.9 294.1 195.0 295.0 196.1 297.6 197.2 295.1 198.3 294.8 199.4 294.1 200.5 295.0 201.6 293.4 202.7 295.3 203.8 295.2 204.9 295.1 206.0 295.6 207.1 295.0 208.2 296.0 209.3 295.9 210.4 296.0 211.5 295.5 212.6 296.4 213.7 295.3 214.8 296.8 215.9 295.2 217.0 296.5 218.1 295.1 219.2 294.6 220.3 293.3 221.4 294.8 222.5 294.2 223.6 293.7 224.7 293.9 225.8 293.5 226.9 292.2 228.0 291.8 229.1 293.7 230.2 293.1 231.3 294.6 232.4 295.1 233.5 293.8 234.6 293.6 235.7 293.5 236.8 293.0 237.9 292.2 239.0 289.9 240.1 293.6 241.2 293.3 242.3 292.6 243.4 292.6 244.5 293.4 245.6 293.2 246.7 292.3 247.8 291.7 248.9 292.6 250.0 292.6 251.1 294.1 252.2 290.6 253.3 292.0 254.4 290.5 255.5 290.9 256.6 293.8 257.7 290.7 258.8 290.9 259.9 290.3 261.0 291.8 262.1 290.2 263.2 288.7 264.3 290.5 265.4 291.2 266.5 290.2 267.6 290.2 268.7 289.2 269.8 288.8 270.9 289.7 272.0 288.4 273.1 289.0 274.2 288.3 275.3 289.1 276.4 290.0 277.5 289.0 278.6 290.2 279.7 289.4 280.8 288.8 281.9 287.9 283.0 288.9 284.1 287.6 285.2 289.6 286.3 287.4 287.5 287.4 288.6 288.0 289.7 287.1 290.8 289.0 291.9 288.0 293.0 288.3 294.1 289.3 295.2 286.2 296.3 288.1 297.4 288.6 298.5 289.2 299.6 288.0 300.7 287.0 301.8 288.5 302.9 288.3 304.0 289.5 305.1 289.3 306.2 286.6 307.3 288.1 308.4 286.8 309.5 285.3 310.6 287.1 311.7 287.7 312.8 283.6 313.9 287.5 315.0 285.1 316.1 287.6 317.2 286.0 318.3 285.8 319.4 287.1 320.5 285.1 321.6 287.7 322.7 284.3 323.8 284.6 324.9 284.0 326.0 285.7 327.1 284.9 328.2 285.8 329.3 286.0 330.4 285.7 331.5 285.9 332.6 285.8 333.7 284.4 334.8 283.6 335.9 283.2 337.0 285.0 338.1 283.4 339.2 282.8 340.3 282.8 341.4 283.4 342.5 283.7 343.6 283.1 344.7 282.2 345.8 283.9 346.9 280.9 348.0 283.0 349.1 284.5 350.2 283.7 351.3 284.8 352.4 283.7 353.5 284.3 354.6 283.8 355.7 283.4 356.8 284.3 357.9 285.0 359.0 281.8 360.1 283.1 361.2 281.6 362.3 282.8 363.4 282.3 364.5 283.0 365.6 283.1 366.6 284.3 367.7 284.4 368.8 281.9 369.9 282.0 371.0 283.0 372.1 281.3 373.2 281.3 374.3 279.5 375.4 282.0 376.5 281.3 377.6 279.7 378.7 279.1 379.7 279.2 380.8 280.6 381.9 279.6 383.0 278.7 384.1 279.7 385.2 280.9 386.3 280.5" stroke="#76b566" stroke-width="7.3" fill="none" stroke-linecap="round" stroke-linejoin="round"/><path d="M99.4 547.8 99.5 548.6 99.6 546.4 99.8 546.2 100.0 542.8 100.1 543.5 100.2 541.3 100.3 539.8 100.4 538.4 100.5 538.3 100.6 538.2 100.7 536.5 100.8 534.7 100.8 533.4 100.9 532.2 101.0 531.7 101.1 529.6 101.2 529.4 101.2 529.3 101.3 527.2 101.4 525.9 101.5 524.3 101.6 524.1 101.7 522.8 101.7 522.1 101.8 519.2 101.9 517.6 102.0 516.7 102.1 514.9 102.2 514.6 102.2 513.0 102.3 511.4 102.4 510.7 102.5 510.3 102.6 508.8 102.7 506.5 102.8 505.8 102.8 504.8 102.9 503.8 103.0 501.8 103.1 499.9 103.2 500.1 103.3 497.9 103.4 497.3 103.4 496.2 103.5 495.9 103.6 493.6 103.7 492.9 103.8 491.4 103.9 489.8 104.0 489.6 104.2 487.2 104.3 486.7 104.4 485.2 104.5 482.4 104.6 481.4 104.8 479.0 104.9 480.6 105.0 479.4 105.2 477.7 105.4 476.5 105.5 475.6 105.7 474.2 105.9 473.4 106.1 472.2 106.4 470.2 106.6 470.9 106.8 469.4 107.0 467.1 107.2 468.0 107.5 467.0 107.7 464.9 107.9 463.6 108.1 460.8 108.3 459.7 108.5 457.7 108.7 457.6 108.8 457.6 109.0 455.5 109.1 453.4 109.3 454.9 109.4 454.2 109.6 452.7 109.7 449.2 109.9 449.9 110.0 447.5 110.2 446.9 110.3 446.4 110.5 445.9 110.6 443.0 110.8 442.1 111.0 440.1 111.1 439.9 111.3 437.9 111.5 437.2 111.6 437.1 111.8 435.4 111.9 434.5 112.1 433.5 112.2 432.8 112.3 432.2 112.5 429.0 112.6 427.5 112.7 428.1 112.9 427.0 113.0 426.4 113.2 424.5 113.3 423.9 113.5 421.6 113.6 419.3 113.8 419.2 113.9 416.4 114.1 415.3 114.2 415.0 114.3 413.2 114.5 412.9 114.6 410.7 114.7 411.3 114.9 407.9 115.0 408.1 115.1 406.1 115.3 406.5 115.4 403.9 115.5 403.9 115.7 399.7 115.8 400.6 116.0 401.4 116.1 399.1 116.3 397.9 116.4 397.4 116.6 397.5 116.7 393.5 116.9 393.1 117.1 391.6 117.3 391.4 117.4 389.0 117.6 387.1 117.8 385.9 118.0 386.5 118.2 384.9 118.4 384.3 118.6 381.1 118.9 380.5 119.1 379.6 119.3 379.8 119.5 378.6 119.8 377.1 120.1 375.1 120.5 374.7 120.7 373.2 121.0 373.3 121.2 373.0 121.5 370.5 121.7 368.2 122.0 369.8 122.3 367.0 122.6 365.4 122.9 363.6 123.1 362.4 123.4 361.2 123.6 360.1 123.8 357.5 124.1 357.0 124.3 356.3 124.6 355.4 124.8 354.3 125.1 353.4 125.3 350.5 125.6 350.1 125.8 349.3 126.1 348.8 126.3 347.5 126.6 348.2 126.8 345.2 127.1 344.3 127.3 342.2 127.6 343.8 127.8 341.3 128.0 340.1 128.3 338.6 128.5 338.1 128.7 336.6 129.0 336.8 129.2 334.1 129.4 333.2 129.7 332.1 129.9 331.9 130.1 330.6 130.3 330.0 130.6 328.5 130.8 327.4 131.0 325.9 131.2 325.5 131.5 324.1 131.7 322.8 131.9 320.2 132.2 320.0 132.4 318.8 132.6 316.8 132.8 318.3 133.1 317.3 133.3 316.0 133.5 314.6 133.8 314.3 134.0 310.8 134.2 312.2 134.5 308.5 134.7 309.3 134.9 308.2 135.2 307.6 135.4 306.7 135.6 305.7 135.9 303.5 136.1 302.4 136.3 301.2 136.6 300.8 136.8 299.3 137.0 297.1 137.3 297.9 137.5 295.0 137.7 294.3 138.0 292.9 138.2 291.6 138.4 291.4 138.7 289.2 138.9 287.4 139.2 286.8 139.4 285.4 139.7 283.8 139.9 284.7 140.1 283.8 140.4 280.6 140.6 282.0 140.9 281.2 141.1 277.5 141.4 277.9 141.6 276.3 141.9 276.2 142.1 272.1 142.4 273.9 142.6 272.0 142.9 271.6 143.1 270.8 143.4 267.0 143.6 267.7 143.9 266.6 144.1 265.9 144.3 265.2 144.6 263.7 144.8 261.4 145.1 261.4 145.3 259.1 145.5 259.2 145.7 257.4 146.0 256.3 146.2 255.5 146.4 253.1 146.6 253.1 146.8 251.4 147.0 252.1 147.2 251.3 147.5 248.1 147.7 246.5 147.9 247.4 148.1 245.8 148.3 244.5 148.6 246.0 148.8 242.8 149.0 241.2 149.3 240.7 149.5 240.1 149.8 240.1 150.0 238.0 150.3 235.6 150.6 235.1 150.9 235.9 151.2 231.9 151.5 232.1 151.8 231.9 152.1 230.0 152.4 228.5 152.7 226.8 153.0 226.5 153.4 225.6 153.7 224.2 154.0 223.7 154.4 221.9 154.7 221.7 155.0 219.6 155.4 219.0 155.7 217.0 156.0 217.6 156.3 216.1 156.7 214.6 157.1 212.0 157.5 211.6 157.9 207.8 158.3 208.8 158.7 208.1 159.1 206.2 159.4 206.1 159.8 205.5 160.2 205.5 160.7 202.8 161.3 200.2 161.8 198.4 162.4 198.9 162.9 198.5 163.4 197.4 164.0 195.3 164.5 193.3 165.0 191.9 165.5 190.9 166.1 189.7 166.6 188.6 167.1 186.8 167.6 186.9 168.1 183.9 168.6 182.8 169.1 181.8 169.6 180.3 170.2 178.2 173.7 178.2 174.3 179.2 174.9 179.3 175.4 181.0 176.0 180.6 176.6 181.3 177.6 183.0 178.5 182.9 179.5 185.7 180.5 185.9 181.4 186.1 182.4 186.3 183.4 186.9 184.4 188.7 185.4 188.3 186.3 188.9 187.3 191.4 188.3 190.2 189.3 190.2 190.2 190.7 191.2 192.7 192.2 191.4 193.1 191.8 194.1 194.0 195.1 194.6 196.0 195.4 197.0 193.5 198.0 195.4 198.9 194.8 199.9 196.4 201.1 194.6 202.2 196.3 203.4 197.9 204.5 197.3 205.7 194.7 206.9 198.5 208.0 197.9 209.2 197.3 210.3 197.8 211.5 197.5 212.7 199.3 213.8 198.2 215.0 196.8 216.1 197.9 217.3 200.8 218.3 200.6 219.2 200.5 220.2 199.2 221.2 201.1 222.1 202.0 223.1 201.5 224.1 202.5 225.1 203.4 226.1 203.7 227.0 203.5 228.0 203.9 229.0 202.4 230.0 203.8 230.9 205.4 231.9 206.6 232.9 205.3 233.8 206.6 234.8 205.8 236.0 205.0 237.1 206.7 238.3 206.9 239.4 205.8 240.6 206.0 241.7 207.3 242.8 207.0 243.9 208.4 245.0 206.8 246.0 209.6 247.0 208.6 248.0 210.1 249.0 208.5 250.0 211.5 251.0 211.2 252.0 213.6 253.0 210.1 254.0 210.1 255.0 212.9 256.0 213.3 257.0 210.6 258.0 213.2 259.0 213.9 260.0 214.7 261.2 213.2 262.3 211.2 263.5 210.7 264.7 214.7 265.8 212.7 267.0 213.2 268.1 211.6 269.1 211.5 270.2 211.3 271.3 210.3 272.4 210.7 273.4 209.6 274.5 210.1 275.5 211.5 276.6 210.1 277.6 209.1 278.7 211.5 279.7 210.8 280.8 209.3 281.8 207.3 282.8 210.8 283.9 211.2 284.9 209.6 286.0 212.1 287.0 210.1 288.1 211.1 289.1 211.3 290.2 212.2 291.3 212.2 292.4 214.1 293.6 212.5 294.7 213.6 295.8 213.4 296.9 213.8 298.0 213.0 299.1 214.0 300.3 215.7 301.4 215.3 302.5 213.4 303.6 214.4 304.7 213.9 305.8 214.3 307.0 214.4 308.1 213.8 309.2 215.6 310.3 216.1 311.5 215.2 312.6 214.6 313.7 215.2 314.8 214.2 316.0 216.1 317.1 217.4 318.2 212.1 319.3 215.3 320.4 215.0 321.5 215.2 322.7 214.7 323.8 213.5 324.9 215.1 326.0 214.8 327.1 215.2 328.2 215.4 329.4 215.1 330.5 218.1 331.6 214.5 332.7 215.5 333.8 214.6 334.9 215.7 336.1 217.5 337.2 215.8 338.3 214.9 339.4 214.3 340.5 216.2 341.6 214.8 342.8 216.1 343.9 214.7 345.0 214.8 346.1 215.3 347.2 213.6 348.3 216.6 349.4 214.1 350.6 215.5 351.7 215.9 352.8 217.9 353.9 216.0 355.0 216.5 356.1 215.1 357.2 215.6 358.3 215.9 359.4 217.1 360.6 215.0 361.7 216.6 362.8 219.3 363.9 215.3 365.0 214.5 366.1 216.0 367.2 216.5 368.3 218.4 369.4 217.3 370.5 218.1 371.6 216.1 372.7 216.9 373.8 217.3 374.9 216.2 376.0 217.4 377.1 216.9 378.2 217.4 379.3 215.7 380.4 215.1 381.5 218.7 382.6 217.3 383.7 217.2 384.8 220.1 385.9 217.9" stroke="#8248ff" stroke-width="7.3" fill="none" stroke-linecap="round" stroke-linejoin="round"/><path d="M128.9 335.4 129.2 334.8 129.5 333.6 129.7 331.9 129.9 331.3 130.1 330.3 130.4 328.6 130.6 328.9 130.8 325.6 131.0 325.0 131.3 323.5 131.5 323.8 131.7 322.6 132.0 320.0 132.2 319.4 132.4 317.8 132.6 315.9 132.9 315.2 133.1 314.9 133.3 313.9 133.6 311.7 133.8 311.2 134.0 310.7 134.3 310.0 134.5 308.1 134.7 306.0 135.0 304.3 135.2 304.5 135.4 303.2 135.7 301.9 135.9 300.8 136.1 299.8 136.4 299.4 136.6 298.7 136.8 296.5 137.1 297.5 137.3 296.1 137.5 293.8 137.8 293.2 138.0 293.1 138.2 290.2 138.5 289.3 138.7 288.3 139.0 286.9 139.2 287.2 139.5 285.3 139.7 284.4 139.9 283.3 140.2 282.0 140.4 282.3 140.7 279.8 140.9 278.1 141.1 276.5 141.4 276.0 141.6 275.5 141.8 274.4 142.0 273.3 142.2 271.6 142.4 271.1 142.6 270.0 142.8 267.6 143.0 267.8 143.2 266.7 143.4 265.0 143.6 265.1 143.8 263.2 144.0 261.5 144.1 261.8 144.3 261.5 144.5 258.1 144.7 258.0 144.9 257.7 145.0 256.5 145.2 255.8 145.4 255.0 145.6 251.5 145.7 252.4 145.9 249.5 146.1 249.0 146.2 247.8 146.4 248.0 146.6 245.2 146.8 245.5 146.9 243.1 147.1 244.8 147.3 241.7 147.5 241.1 147.7 239.1 148.0 238.4 148.2 238.9 148.4 237.0 148.7 234.8 149.0 234.2 149.3 233.4 149.6 233.9 149.9 231.3 150.2 230.6 150.5 230.0 150.8 229.9 151.1 227.4 151.5 224.9 151.8 223.8 152.1 224.8 152.5 221.8 152.3 222.4 152.9 221.7 153.6 222.8 154.2 225.7 154.9 223.5 155.5 222.9 156.3 227.5 157.1 228.9 157.8 229.8 158.6 230.4 159.6 231.1 160.5 229.7 161.5 232.1 162.4 230.6 163.4 230.6 164.3 232.6 165.3 232.0 166.2 232.8 167.2 233.9 168.1 234.7 169.1 235.9 170.2 235.1 171.3 236.0 172.4 236.9 173.5 237.6 174.6 238.4 175.6 239.1 176.7 238.9 177.8 239.5 178.9 240.0 180.0 239.6 181.1 240.0 182.2 239.0 183.3 240.3 184.4 241.2 185.6 239.6 186.7 241.7 187.8 239.9 188.9 241.7 190.0 242.4 191.1 240.8 192.2 240.1 193.2 241.0 194.3 240.1 195.4 239.6 196.5 241.8 197.6 238.7 198.6 241.7 199.7 240.0 200.8 241.9 201.9 240.5 202.9 243.0 204.0 240.6 205.1 238.8 206.2 244.4 207.3 241.4 208.3 241.2 209.4 241.4 210.5 241.1 211.6 241.9 212.7 240.8 213.7 244.0 214.8 241.0 215.9 242.5 217.0 243.3 218.1 241.8 219.2 243.0 220.3 241.6 221.4 241.1 222.5 241.4 223.6 243.5 224.7 243.6 225.8 241.5 226.9 243.7 228.0 241.7 229.1 242.9 230.2 243.6 231.3 240.8 232.4 243.7 233.5 242.9 234.6 241.7 235.7 244.1 236.8 243.7 237.9 243.8 239.0 243.2 240.1 242.8 241.2 242.1 242.3 243.3 243.4 242.4 244.5 243.0 245.6 243.7 246.7 243.9 247.8 243.3 248.9 243.1 250.0 242.3 251.1 243.5 252.2 243.7 253.3 241.9 254.4 241.9 255.5 241.2 256.6 241.9 257.7 241.6 258.8 244.0 259.9 243.4 261.0 240.3 262.1 242.4 263.2 241.2 264.3 239.5 265.4 241.4 266.5 240.2 267.6 241.0 268.7 241.1 269.8 239.6 270.9 241.8 272.0 240.2 273.1 239.1 274.2 238.1 275.3 242.2 276.4 239.0 277.5 240.0 278.6 240.2 279.7 240.8 280.8 238.4 281.9 237.3 283.0 240.0 284.1 238.4 285.2 239.7 286.3 242.2 287.5 239.3 288.6 240.7 289.7 238.8 290.8 243.2 291.9 239.6 293.0 240.5 294.1 239.9 295.2 239.4 296.3 241.1 297.4 239.7 298.5 238.9 299.6 239.2 300.7 239.4 301.8 239.8 302.9 239.7 304.0 238.5 305.1 238.7 306.2 241.3 307.3 238.7 308.4 240.2 309.5 238.1 310.6 238.9 311.7 237.7 312.8 236.2 313.9 237.6 315.0 239.1 316.1 239.4 317.2 239.2 318.3 237.4 319.4 237.6 320.5 236.7 321.6 238.2 322.7 238.8 323.8 238.1 324.9 237.1 326.0 238.3 327.1 238.0 328.2 238.3 329.3 237.6 330.4 238.0 331.5 237.0 332.6 236.8 333.7 235.0 334.8 237.9 335.9 237.8 337.0 236.6 338.1 239.2 339.2 238.8 340.3 239.3 341.4 237.3 342.5 237.1 343.6 237.6 344.7 238.2 345.8 238.8 346.9 236.1 348.0 236.9 349.1 234.9 350.2 236.7 351.3 237.9 352.4 237.6 353.5 239.3 354.6 237.4 355.7 236.2 356.8 235.8 357.9 236.8 359.0 238.1 360.1 234.9 361.2 235.0 362.3 236.0 363.4 235.5 364.5 236.7 365.6 235.2 366.6 235.6 367.7 235.5 368.8 235.7 369.9 236.9 371.0 234.0 372.1 233.6 373.2 233.9 374.3 235.2 375.4 235.7 376.5 236.2 377.6 236.0 378.7 235.8 379.7 233.7 380.8 234.8 381.9 236.0 383.0 234.1 384.1 234.8 385.2 234.7 386.3 234.3" stroke="#48a4ff" stroke-width="7.3" fill="none" stroke-linecap="round" stroke-linejoin="round"/><path d="M100.3 548.0 100.4 547.7 100.5 545.3 100.7 545.8 100.9 543.7 101.0 542.5 101.1 541.6 101.2 540.7 101.3 538.3 101.4 538.3 101.5 536.3 101.6 533.4 101.7 536.0 101.7 533.3 101.8 531.9 101.9 532.2 102.0 530.4 102.1 528.4 102.1 527.8 102.2 526.7 102.3 525.1 102.4 522.1 102.5 523.0 102.6 520.9 102.6 519.7 102.7 519.4 102.8 519.9 102.9 516.1 103.0 516.1 103.1 513.4 103.1 512.1 103.2 511.8 103.3 511.6 103.4 509.7 103.5 508.5 103.6 507.9 103.7 506.0 103.7 503.8 103.8 502.2 103.9 501.5 104.0 500.8 104.1 499.1 104.2 498.0 104.3 496.6 104.3 495.3 104.4 493.8 104.5 493.1 104.6 494.0 104.7 492.3 104.8 491.3 104.9 489.1 105.1 487.6 105.2 487.1 105.3 484.9 105.4 485.0 105.5 483.1 105.7 482.4 105.8 480.0 105.9 480.9 106.1 478.4 106.3 477.5 106.4 475.2 106.6 474.1 106.8 473.9 107.0 470.7 107.3 471.7 107.5 469.0 107.7 469.1 107.9 466.7 108.1 466.0 108.4 465.0 108.6 464.5 108.8 461.8 109.0 461.6 109.2 460.2 109.4 459.6 109.6 457.2 109.7 456.9 109.9 455.3 110.0 454.6 110.2 454.7 110.3 453.8 110.5 451.0 110.6 450.5 110.8 449.6 110.9 447.7 111.1 447.1 111.2 445.3 111.4 445.4 111.5 443.0 111.7 443.7 111.9 439.7 112.0 440.4 112.2 439.1 112.4 436.8 112.5 434.7 112.7 435.1 112.8 432.8 113.0 433.4 113.1 431.5 113.2 430.2 113.4 429.1 113.5 428.5 113.6 426.7 113.8 426.0 113.9 424.7 114.1 422.7 114.2 422.7 114.4 421.8 114.5 420.2 114.7 418.1 114.8 417.3 115.0 414.8 115.1 413.9 115.2 412.7 115.4 411.9 115.5 411.9 115.6 409.5 115.8 408.6 115.9 406.8 116.0 406.4 116.2 404.5 116.3 405.4 116.4 403.5 116.6 403.2 116.7 402.4 116.9 400.5 117.0 399.2 117.2 397.7 117.3 396.0 117.5 393.4 117.6 394.0 117.8 392.1 118.0 390.6 118.2 389.7 118.3 388.9 118.5 388.3 118.7 385.8 118.9 384.4 119.1 385.1 119.3 383.6 119.5 382.6 119.8 380.5 120.0 378.4 120.2 379.6 120.4 378.6 120.7 376.1 121.0 375.5 121.4 374.6 121.6 374.7 121.9 372.7 122.1 371.3 122.4 369.5 122.6 368.2 122.9 367.3 123.2 365.5 123.5 365.1 123.8 363.4 124.0 362.0 124.3 360.3 124.5 360.1 124.7 358.7 125.0 358.1 125.2 355.9 125.5 355.9 125.7 354.1 126.0 354.5 126.2 351.2 126.5 352.2 126.7 351.7 127.0 348.2 127.2 348.6 127.5 346.7 127.7 343.7 128.0 343.1 128.2 343.3 128.5 341.6 128.7 341.0 128.9 339.6 129.2 339.4 129.4 337.1 129.6 335.4 129.9 334.7 130.1 334.1 130.3 332.4 130.6 332.0 130.8 330.8 131.0 329.7 131.2 328.8 131.5 327.5 131.7 327.5 131.9 325.7 132.1 325.1 132.4 322.2 132.6 322.2 132.8 320.7 133.1 318.4 133.3 320.5 133.5 316.7 133.7 317.4 134.0 316.2 134.2 315.5 134.4 313.2 134.7 310.5 134.9 312.0 135.1 310.4 135.4 310.1 135.6 308.4 135.8 308.6 136.1 307.0 136.3 305.3 136.5 306.4 136.8 303.0 137.0 300.7 137.2 301.5 137.5 300.7 137.7 299.7 137.9 297.7 138.2 297.0 138.4 295.3 138.6 294.5 138.9 294.2 139.1 292.2 139.3 292.1 139.6 290.2 139.8 289.4 140.1 287.9 140.3 288.0 140.6 286.0 140.8 284.2 141.0 283.8 141.3 283.5 141.5 281.7 141.8 279.5 142.0 278.7 142.3 277.4 142.5 278.1 142.8 276.1 143.0 275.5 143.3 274.4 143.5 272.4 143.8 272.5 144.0 270.4 144.3 269.7 144.5 266.7 144.8 267.1 145.0 265.7 145.2 264.3 145.5 263.9 145.7 261.6 146.0 261.3 146.2 258.4 146.4 259.1 146.6 257.6 146.9 258.4 147.1 256.1 147.3 255.4 147.5 251.6 147.7 252.5 147.9 250.9 148.1 251.9 148.4 250.7 148.6 249.1 148.8 248.1 149.0 247.1 149.2 246.0 149.5 245.5 149.7 244.5 149.9 242.8 150.2 241.3 150.4 242.1 150.7 239.4 150.9 238.1 151.2 239.4 151.5 236.5 151.8 235.1 152.1 233.0 152.4 232.0 152.7 232.7 153.0 230.2 153.3 230.1 153.6 227.1 153.9 227.4 154.3 225.6 154.6 223.9 154.9 221.6 155.3 222.9 155.6 220.7 155.9 219.3 156.3 218.9 156.6 216.3 156.9 217.1 157.2 215.5 157.6 214.2 158.0 213.0 158.4 210.7 158.8 209.9 159.2 209.3 159.6 207.5 160.0 208.0 160.3 206.7 160.7 206.3 161.1 203.1 161.6 204.3 162.2 201.4 162.7 200.1 163.3 199.3 163.8 199.4 164.3 197.4 164.9 196.1 165.4 195.3 165.9 193.9 166.4 192.5 167.0 191.0 167.5 189.0 168.0 187.6 168.5 184.7 169.0 184.1 169.5 181.0 170.0 181.2 170.5 179.9 171.0 177.7 171.5 176.5 172.0 176.2 172.5 173.6 172.9 172.8 173.2 173.3 173.6 171.1 173.9 170.6 174.3 169.3 174.6 168.4 175.2 167.5 175.7 165.0 176.2 164.5 176.7 162.3 177.1 161.2 177.6 160.8 178.1 158.7 178.5 155.9 179.0 156.7 179.4 156.7 179.8 153.7 180.3 153.8 180.7 152.0 181.1 150.0 181.4 150.1 181.7 147.6 182.2 148.6 182.3 147.4 182.9 149.3 183.5 150.7 184.2 153.5 184.8 153.3 185.4 152.2 186.0 154.1 186.7 154.8 187.3 154.8 188.0 157.0 188.7 157.5 189.3 157.6 190.0 158.3 191.0 160.4 191.9 160.3 192.9 162.3 193.9 162.6 194.8 161.1 195.8 160.8 196.6 163.6 197.5 163.4 198.3 163.6 199.1 164.5 199.9 167.3 200.8 166.0 201.6 168.7 202.6 168.0 203.5 165.9 204.5 168.7 205.5 170.3 206.4 167.4 207.4 168.6 208.5 170.1 209.6 170.1 210.7 172.9 211.7 170.6 212.8 173.7 213.9 170.9 215.0 171.9 216.0 173.5 217.0 174.2 218.0 174.2 219.0 176.2 220.0 176.8 221.1 177.3 222.1 175.5 223.1 176.8 224.1 176.0 225.1 178.2 226.1 174.6 227.2 176.7 228.3 177.4 229.4 177.5 230.5 180.0 231.6 177.2 232.7 178.1 233.8 178.0 234.9 179.5 236.0 178.8 237.1 181.0 238.2 181.1 239.3 178.1 240.5 178.3 241.6 181.5 242.7 181.2 243.8 179.2 244.9 181.0 246.0 180.0 247.1 182.3 248.2 180.4 249.2 181.3 250.3 182.8 251.4 182.5 252.5 183.8 253.6 183.3 254.7 181.6 255.8 183.7 256.9 182.5 257.9 185.5 259.0 185.9 260.1 185.7 261.2 187.1 262.3 185.9 263.4 186.7 264.5 186.3 265.6 186.3 266.7 186.5 267.8 186.0 268.9 187.7 270.0 184.7 271.1 184.3 272.2 185.2 273.3 187.9 274.4 186.0 275.6 185.6 276.7 185.8 277.8 187.3 278.9 186.9 280.0 188.5 281.1 187.0 282.3 188.4 283.4 186.6 284.6 188.2 285.7 191.0 286.8 187.6 288.0 187.8 289.1 189.0 290.2 186.9 291.3 187.5 292.4 187.4 293.6 188.2 294.7 186.4 295.8 189.4 296.9 188.1 298.0 188.2 299.1 187.9 300.3 188.1 301.4 185.8 302.5 189.6 303.6 187.4 304.7 189.6 305.7 188.9 306.8 189.2 307.8 190.3 308.9 191.8 309.9 190.2 311.0 189.9 312.0 190.9 313.1 187.6 314.1 189.2 315.1 188.8 316.1 189.3 317.2 188.0 318.2 190.1 319.3 188.9 320.4 189.4 321.5 189.2 322.7 188.8 323.8 188.4 324.9 190.4 326.0 189.8 327.1 190.5 328.2 188.6 329.4 189.0 330.5 189.0 331.6 188.3 332.7 188.6 333.8 186.8 334.9 187.1 336.1 187.3 337.2 187.0 338.3 188.7 339.4 188.6 340.5 188.7 341.6 188.0 342.8 189.4 343.9 189.3 345.0 188.9 346.1 188.0 347.2 190.1 348.3 187.2 349.4 186.8 350.6 187.1 351.7 189.7 352.8 188.5 353.9 187.7 355.0 185.8 356.1 187.9 357.2 187.0 358.3 185.8 359.4 189.1 360.6 187.9 361.7 189.3 362.8 187.8 363.9 188.4 365.0 187.1 366.1 188.5 367.2 187.5 368.3 188.7 369.4 188.3 370.5 187.1 371.6 188.3 372.7 188.6 373.8 187.7 374.9 188.4 376.0 189.6 377.1 189.9 378.2 188.7 379.3 186.2 380.4 189.4 381.5 190.5 382.6 188.3 383.7 187.6 384.8 188.8 385.9 188.3" stroke="#b84bff" stroke-width="7.3" fill="none" stroke-linecap="round" stroke-linejoin="round"/></g><path stroke="#000" stroke-width="2.2" fill="none" d="M563.8 63.5H914.7V579.2H558.5M569.3 63.5V579.2"/><path stroke="#000" stroke-width="2.2" fill="none" d="M569.3 579.2V590.0M595.1 579.2V585.0M595.1 63.5V69.3M610.1 579.2V585.0M610.1 63.5V69.3M620.8 579.2V585.0M620.8 63.5V69.3M629.1 579.2V585.0M629.1 63.5V69.3M635.9 579.2V585.0M635.9 63.5V69.3M641.6 579.2V585.0M641.6 63.5V69.3M646.6 579.2V585.0M646.6 63.5V69.3M650.9 579.2V585.0M650.9 63.5V69.3M654.8 579.2V590.0M654.8 63.5V74.3M680.6 579.2V585.0M680.6 63.5V69.3M695.7 579.2V585.0M695.7 63.5V69.3M706.4 579.2V585.0M706.4 63.5V69.3M714.6 579.2V585.0M714.6 63.5V69.3M721.4 579.2V585.0M721.4 63.5V69.3M727.1 579.2V585.0M727.1 63.5V69.3M732.1 579.2V585.0M732.1 63.5V69.3M736.5 579.2V585.0M736.5 63.5V69.3M740.4 579.2V590.0M740.4 63.5V74.3M766.2 579.2V585.0M766.2 63.5V69.3M781.2 579.2V585.0M781.2 63.5V69.3M791.9 579.2V585.0M791.9 63.5V69.3M800.2 579.2V585.0M800.2 63.5V69.3M807.0 579.2V585.0M807.0 63.5V69.3M812.7 579.2V585.0M812.7 63.5V69.3M817.7 579.2V585.0M817.7 63.5V69.3M822.0 579.2V585.0M822.0 63.5V69.3M825.9 579.2V590.0M825.9 63.5V74.3M851.7 579.2V585.0M851.7 63.5V69.3M866.8 579.2V585.0M866.8 63.5V69.3M877.5 579.2V585.0M877.5 63.5V69.3M885.7 579.2V585.0M885.7 63.5V69.3M892.5 579.2V585.0M892.5 63.5V69.3M898.2 579.2V585.0M898.2 63.5V69.3M903.2 579.2V585.0M903.2 63.5V69.3M907.6 579.2V585.0M907.6 63.5V69.3M911.5 579.2V590.0M911.5 63.5V74.3M914.7 579.2H903.9M569.3 487.9H563.5M914.7 487.9H908.9M569.3 434.5H563.5M914.7 434.5H908.9M569.3 396.6H563.5M914.7 396.6H908.9M569.3 367.2H563.5M914.7 367.2H908.9M569.3 343.2H563.5M914.7 343.2H908.9M569.3 322.9H563.5M914.7 322.9H908.9M569.3 305.3H563.5M914.7 305.3H908.9M569.3 289.8H563.5M914.7 289.8H908.9M569.3 275.9H558.5M914.7 275.9H903.9M569.3 184.6H563.5M914.7 184.6H908.9M569.3 131.2H563.5M914.7 131.2H908.9M569.3 93.3H563.5M914.7 93.3H908.9M569.3 63.9H563.5M914.7 63.9H908.9"/><g clip-path="url(#cb)"><path d="M569.3 548.5 569.3 367.3 575.7 367.3 576.6 318.4 581.8 317.5 582.6 301.0 585.6 298.0 588.6 301.0 588.0 318.0 586.2 318.5 586.2 345.4 581.0 345.4 581.2 413.0 576.0 413.0 573.3 485.0 571.6 545.0Z" fill="#00aa00" stroke="#00aa00" stroke-width="1.2" stroke-linejoin="round"/><path d="M585.9 300.0 586.4 297.9 588.0 295.7 588.4 293.6 587.7 291.5 588.8 289.3 588.6 287.2 588.0 285.1 589.3 283.1 589.5 281.0 589.6 278.9 589.2 276.8 590.0 274.8 589.6 272.7 591.2 270.6 591.5 268.5 591.5 266.4 591.9 264.3 593.6 262.2 592.6 260.1 594.1 258.0 594.4 256.2 595.5 254.4 594.6 252.6 595.9 250.8 596.9 249.0 596.6 247.2 596.3 245.4 596.4 243.6 597.4 241.8 598.5 239.9 599.2 238.1 598.9 236.3 599.8 234.5 600.2 232.7 600.6 230.8 600.4 229.0 601.6 226.9 601.3 224.9 602.5 222.8 603.4 220.7 604.2 218.6 604.2 216.6 605.4 214.5 606.0 212.4 606.2 210.4 606.1 208.3 606.7 206.2 607.0 204.1 607.4 202.1 608.1 200.0 608.8 197.9 608.8 195.9 609.7 193.8 610.0 191.8 610.5 189.8 610.4 187.7 611.8 185.8 612.2 183.8 613.1 181.9 614.2 180.0 614.8 178.0 615.6 176.1 615.8 174.2 616.0 172.2 617.3 170.3 618.3 168.6 619.3 166.8 620.7 165.1 621.1 163.3 622.4 161.6 622.3 159.8 622.7 158.1 624.4 156.3 624.2 154.6 624.7 152.8 625.9 151.1 627.0 149.3 628.0 147.6 628.1 145.8 629.2 144.1 629.6 142.4 629.7 140.6 630.9 138.9 631.4 137.1 633.0 135.4 633.0 133.6 634.2 131.9 635.6 130.2 637.5 128.4 638.4 126.7 639.1 124.9 640.5 123.2 641.5 121.4 644.0 119.8 642.9 118.2 643.7 116.6 644.9 115.0 646.2 113.4 647.8 111.8 649.6 110.2 650.2 108.7 651.4 107.1 652.6 105.6 653.8 104.0 654.7 102.7 656.9 101.4 658.0 100.1 658.9 98.8 659.5 100.4 660.4 100.4 661.2 101.1 662.1 102.9 663.0 104.3 663.8 104.4 664.7 106.4 665.5 106.1 666.4 108.4 667.2 108.9 668.4 108.6 669.6 111.0 670.8 111.7 672.0 112.9 673.3 113.5 674.6 114.9 676.0 115.5 677.3 116.9 678.6 118.4 679.9 119.5 681.2 120.2 682.5 121.0 683.8 121.7 685.1 122.2 686.5 122.6 687.8 124.7 689.1 124.8 690.4 126.0 691.7 126.0 693.0 127.9 694.4 128.8 695.9 128.2 697.3 129.1 698.7 128.8 700.1 129.2 701.6 129.0 703.0 127.9 704.4 129.8 705.9 130.0 707.3 130.3 708.7 131.1 710.2 130.7 711.6 130.6 713.0 130.2 714.5 132.4 715.9 130.2 717.3 131.1 718.7 131.4 720.2 132.6 721.6 132.6 723.0 133.1 724.5 132.1 725.9 133.2 727.4 134.4 728.8 133.9 730.2 133.8 731.7 134.9 733.1 134.7 734.6 135.3 736.0 135.7 737.5 135.0 739.0 135.7 740.5 136.6 742.0 135.7 743.5 135.8 745.0 135.8 746.7 136.1 748.4 136.1 750.0 135.1 751.7 135.6 753.1 136.9 754.6 135.4 756.0 137.3 757.4 137.7 758.9 136.7 760.3 137.1 761.7 138.1 763.2 139.6 764.6 138.8 766.0 139.6 767.5 139.9 768.9 140.2 770.4 141.8 771.8 141.1 773.2 140.6 774.7 141.8 776.1 142.3 777.6 141.6 779.0 142.6 780.4 142.3 781.9 142.0 783.3 142.4 784.7 143.4 786.1 142.9 787.6 142.1 789.0 143.6 790.4 143.0 791.9 141.5 793.3 142.7 794.7 142.2 796.1 143.4 797.6 145.7 799.0 145.6 800.4 144.9 801.9 144.5 803.3 144.6 804.7 145.2 806.1 145.9 807.6 146.6 809.0 145.9 810.5 146.7 811.9 145.9 813.4 144.7 814.8 146.1 816.2 146.5 817.7 146.2 819.1 146.5 820.6 145.3 822.0 145.6 823.6 145.7 825.2 145.8 826.7 145.9 828.3 146.2 829.9 145.4 831.5 145.0 833.0 145.4 834.6 145.6 836.2 145.5 837.6 145.2 839.1 146.1 840.5 146.1 842.0 146.0 843.4 145.7 844.8 145.4 846.3 144.7 847.7 144.5 849.2 144.7 850.6 143.2 852.0 144.1 853.5 142.5 854.9 144.4 856.3 143.4 857.8 142.3 859.2 142.4 860.6 141.9 862.0 142.9 863.5 142.4 864.9 141.6 866.3 141.0 867.8 141.4 869.2 141.0 870.6 140.6 872.0 140.1 873.5 139.3 874.9 139.2 876.3 139.4 877.8 138.6 879.2 138.8 880.6 140.3 882.1 139.1 883.5 139.4 885.0 138.5 886.4 139.5 887.8 138.7 889.3 138.9 890.7 138.9 892.2 138.4 893.6 139.1 895.1 137.3 896.7 137.6 898.2 137.9 899.7 137.5 901.3 137.8 902.8 138.7 904.4 137.2 905.9 137.4 907.4 136.9 909.0 136.7 910.5 136.9" stroke="#00aa00" stroke-width="8.2" fill="none" stroke-linecap="round" stroke-linejoin="round"/></g><g font-family="Liberation Sans, sans-serif" fill="#000" text-rendering="geometricPrecision"><g transform="translate(15.30,3.05) scale(1.0479,1.0023) translate(-22.77,-87.00)"><text x="20" y="120" font-size="45">(a)</text></g><g transform="translate(484.30,6.20) scale(1.0500,1.0083) translate(-22.77,-87.00)"><text x="20" y="120" font-size="45">(b)</text></g><g transform="translate(59.30,565.10) scale(1.0053,1.0515) translate(-21.66,-90.79)"><text x="20" y="120" font-size="42">0</text></g><g transform="translate(68.20,485.80) scale(1.0151,1.0759) translate(-24.57,-91.00)"><path transform="translate(20.00,120) scale(0.02051,-0.02051)" d="M763 0L583 0L583 1103Q518 1043 412.5 984Q307 924 223 894L223 1062Q374 1130 487 1227Q600 1324 647 1415L763 1415Z"/></g><g transform="translate(59.60,406.50) scale(1.0398,1.0691) translate(-21.93,-90.82)"><text x="20" y="120" font-size="42">2</text></g><g transform="translate(59.60,327.20) scale(0.9990,1.0515) translate(-21.79,-90.79)"><text x="20" y="120" font-size="42">3</text></g><g transform="translate(58.30,247.90) scale(1.0060,1.0759) translate(-20.88,-91.00)"><text x="20" y="120" font-size="42">4</text></g><g transform="translate(58.70,168.60) scale(1.0474,1.0400) translate(-21.87,-91.00)"><text x="20" y="120" font-size="42">5</text></g><g transform="translate(59.90,89.30) scale(0.9915,1.0510) translate(-21.94,-90.78)"><text x="20" y="120" font-size="42">6</text></g><g transform="translate(89.00,602.20) scale(0.9808,1.0515) translate(-21.66,-90.79)"><text x="20" y="120" font-size="42">0</text></g><g transform="translate(174.20,602.20) scale(1.0252,1.0528) translate(-24.57,-90.81)"><path transform="translate(20.00,120) scale(0.02051,-0.02051)" d="M763 0L583 0L583 1103Q518 1043 412.5 984Q307 924 223 894L223 1062Q374 1130 487 1227Q600 1324 647 1415L763 1415Z"/><text x="43.36" y="120" font-size="42">0</text></g><g transform="translate(270.20,602.20) scale(0.9626,1.0528) translate(-21.93,-90.81)"><text x="20" y="120" font-size="42">20</text></g><g transform="translate(366.20,602.20) scale(0.9594,1.0515) translate(-21.79,-90.79)"><text x="20" y="120" font-size="42">30</text></g><g transform="translate(201.40,646.00) scale(1.0286,0.9700) translate(-20.66,-89.00)"><text x="20" y="120" font-size="42">time (s)</text></g><g transform="translate(670.80,648.80) scale(1.0271,0.9000) translate(-20.66,-89.00)"><text x="20" y="120" font-size="42">time (s)</text></g><g transform="translate(334.20,118.40) scale(1.0148,1.0403) translate(-20.79,-94.81)"><text x="20" y="120" font-size="36">40</text></g><g transform="translate(394.60,161.20) scale(1.0134,1.0132) translate(-21.58,-94.79)"><text x="20" y="120" font-size="36">36</text></g><g transform="translate(381.90,190.80) scale(1.0229,0.9992) translate(-21.58,-94.83)"><text x="20" y="120" font-size="36">32</text></g><g transform="translate(175.70,207.80) scale(1.0323,0.9917) translate(-21.77,-94.84)"><text x="20" y="120" font-size="36">28</text></g><g transform="translate(172.20,246.70) scale(1.0092,1.0167) translate(-21.77,-94.81)"><text x="20" y="120" font-size="36">20</text></g><g transform="translate(158.30,303.20) scale(1.0243,1.0132) translate(-23.92,-94.79)"><path transform="translate(20.00,120) scale(0.01758,-0.01758)" d="M763 0L583 0L583 1103Q518 1043 412.5 984Q307 924 223 894L223 1062Q374 1130 487 1227Q600 1324 647 1415L763 1415Z"/><text x="40.02" y="120" font-size="36">6</text></g><g transform="translate(146.20,350.80) scale(1.0229,1.0135) translate(-23.92,-94.84)"><path transform="translate(20.00,120) scale(0.01758,-0.01758)" d="M763 0L583 0L583 1103Q518 1043 412.5 984Q307 924 223 894L223 1062Q374 1130 487 1227Q600 1324 647 1415L763 1415Z"/><text x="40.02" y="120" font-size="36">2</text></g><g transform="translate(150.50,395.00) scale(1.0015,1.0153) translate(-21.61,-94.84)"><text x="20" y="120" font-size="36">8</text></g><g transform="translate(146.80,443.70) scale(0.9751,1.0120) translate(-20.79,-95.00)"><text x="20" y="120" font-size="36">4</text></g><g transform="translate(485.10,260.30) scale(1.0351,1.0528) translate(-24.57,-90.81)"><path transform="translate(20.00,120) scale(0.02051,-0.02051)" d="M763 0L583 0L583 1103Q518 1043 412.5 984Q307 924 223 894L223 1062Q374 1130 487 1227Q600 1324 647 1415L763 1415Z"/><text x="43.36" y="120" font-size="42">0</text></g><g transform="translate(530.00,251.40) scale(0.9600,0.9885) translate(-20.94,-101.81)"><text x="20" y="120" font-size="26">-6</text></g><g transform="translate(484.80,563.90) scale(1.0326,1.0528) translate(-24.57,-90.81)"><path transform="translate(20.00,120) scale(0.02051,-0.02051)" d="M763 0L583 0L583 1103Q518 1043 412.5 984Q307 924 223 894L223 1062Q374 1130 487 1227Q600 1324 647 1415L763 1415Z"/><text x="43.36" y="120" font-size="42">0</text></g><g transform="translate(530.70,554.80) scale(0.9347,1.0333) translate(-20.94,-102.00)"><text x="20" y="120" font-size="26">-7</text></g><g transform="translate(542.20,603.90) scale(1.0277,1.0595) translate(-24.57,-90.81)"><path transform="translate(20.00,120) scale(0.02051,-0.02051)" d="M763 0L583 0L583 1103Q518 1043 412.5 984Q307 924 223 894L223 1062Q374 1130 487 1227Q600 1324 647 1415L763 1415Z"/><text x="43.36" y="120" font-size="42">0</text></g><g transform="translate(587.10,595.20) scale(0.9085,1.0144) translate(-20.91,-101.82)"><text x="20" y="120" font-size="26">0</text></g><g transform="translate(627.75,603.90) scale(1.0277,1.0595) translate(-24.57,-90.81)"><path transform="translate(20.00,120) scale(0.02051,-0.02051)" d="M763 0L583 0L583 1103Q518 1043 412.5 984Q307 924 223 894L223 1062Q374 1130 487 1227Q600 1324 647 1415L763 1415Z"/><text x="43.36" y="120" font-size="42">0</text></g><g transform="translate(676.75,595.20) scale(1.0887,1.0389) translate(-22.84,-102.00)"><path transform="translate(20.00,120) scale(0.01270,-0.01270)" d="M763 0L583 0L583 1103Q518 1043 412.5 984Q307 924 223 894L223 1062Q374 1130 487 1227Q600 1324 647 1415L763 1415Z"/></g><g transform="translate(713.30,603.90) scale(1.0277,1.0595) translate(-24.57,-90.81)"><path transform="translate(20.00,120) scale(0.02051,-0.02051)" d="M763 0L583 0L583 1103Q518 1043 412.5 984Q307 924 223 894L223 1062Q374 1130 487 1227Q600 1324 647 1415L763 1415Z"/><text x="43.36" y="120" font-size="42">0</text></g><g transform="translate(758.10,595.20) scale(0.9751,1.0266) translate(-20.98,-101.78)"><text x="20" y="120" font-size="26">2</text></g><g transform="translate(798.85,603.90) scale(1.0277,1.0595) translate(-24.57,-90.81)"><path transform="translate(20.00,120) scale(0.02051,-0.02051)" d="M763 0L583 0L583 1103Q518 1043 412.5 984Q307 924 223 894L223 1062Q374 1130 487 1227Q600 1324 647 1415L763 1415Z"/><text x="43.36" y="120" font-size="42">0</text></g><g transform="translate(843.65,595.20) scale(0.9677,1.0137) translate(-20.96,-101.80)"><text x="20" y="120" font-size="26">3</text></g><g transform="translate(884.40,603.90) scale(1.0277,1.0595) translate(-24.57,-90.81)"><path transform="translate(20.00,120) scale(0.02051,-0.02051)" d="M763 0L583 0L583 1103Q518 1043 412.5 984Q307 924 223 894L223 1062Q374 1130 487 1227Q600 1324 647 1415L763 1415Z"/><text x="43.36" y="120" font-size="42">0</text></g><g transform="translate(928.90,595.20) scale(0.9160,1.0389) translate(-20.63,-102.00)"><text x="20" y="120" font-size="26">4</text></g><g transform="translate(3.50,379.75) scale(1.0539,1.0000) translate(-120.93,-182.00)"><text transform="translate(150,190) rotate(-90)" font-size="42">I</text></g><g transform="translate(30.80,348.50) scale(0.9537,0.9999) translate(-130.94,-162.75)"><text transform="translate(150,190) rotate(-90)" font-size="26">ph</text></g><g transform="translate(2.80,254.70) scale(0.9854,1.0329) translate(-119.60,-112.53)"><g transform="translate(150,190) rotate(-90)"><text x="0" y="0" font-size="42">(</text><g transform="translate(13.99,0) scale(0.02051,-0.02051)" fill="none" stroke="#000" stroke-linecap="butt"><path d="M245 890V-170" stroke-width="172"/><path d="M245 -150L262 -400" stroke-width="95"/><circle cx="268" cy="-405" r="92" stroke="none" fill="#000"/><path d="M756 890V110" stroke-width="168"/><path d="M245 380C245 60 380 -19 500 -19C640 -19 756 80 756 330" stroke-width="158"/><path d="M740 190Q790 70 1131 160" stroke-width="80"/></g><text x="38.19" y="0" font-size="42">A)</text></g></g><g transform="translate(455.60,410.15) scale(1.0539,1.0000) translate(-120.93,-182.00)"><text transform="translate(150,190) rotate(-90)" font-size="42">I</text></g><g transform="translate(482.80,379.60) scale(0.9618,0.9882) translate(-130.94,-162.75)"><text transform="translate(150,190) rotate(-90)" font-size="26">ph</text></g><g transform="translate(455.60,309.80) scale(1.0061,1.0418) translate(-119.60,-136.78)"><text transform="translate(150,190) rotate(-90)" font-size="42">(A)</text></g></g></svg>
</body></html>
